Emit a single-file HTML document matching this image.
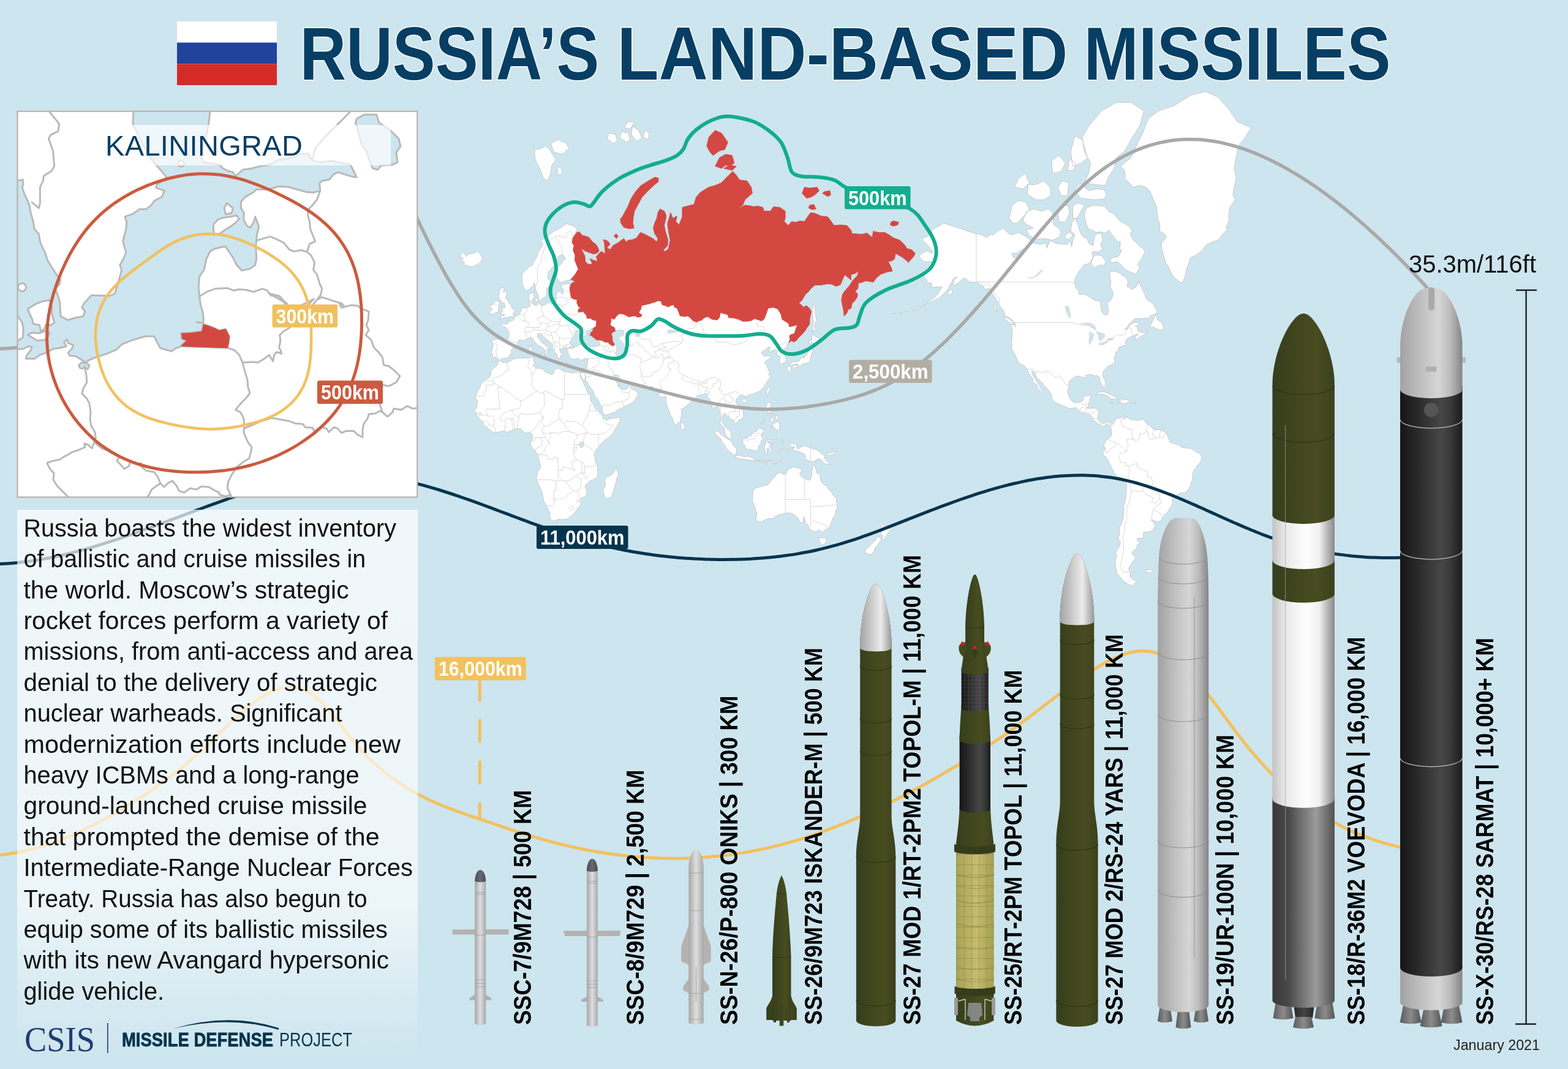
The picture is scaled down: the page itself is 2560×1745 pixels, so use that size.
<!DOCTYPE html>
<html lang="en"><head><meta charset="utf-8"><title>Russia’s Land-Based Missiles</title>
<style>html,body{margin:0;padding:0;background:#cde5ee;}body{width:2560px;height:1745px;overflow:hidden;position:relative;font-family:"Liberation Sans",sans-serif;}svg{display:block;position:absolute;left:0;top:0;}text{white-space:pre;}</style></head><body>
<svg width="2560" height="1745" viewBox="0 0 2560 1745">
<defs>
<linearGradient id="panelg" x1="0" y1="0" x2="0" y2="1">
<stop offset="0" stop-color="#fff" stop-opacity="0.7"/>
<stop offset="0.72" stop-color="#fff" stop-opacity="0.62"/>
<stop offset="0.88" stop-color="#fff" stop-opacity="0.22"/>
<stop offset="1" stop-color="#fff" stop-opacity="0"/>
</linearGradient>
<linearGradient id="gSil" x1="0" y1="0" x2="1" y2="0"><stop offset="0" stop-color="#9b9b9b"/><stop offset="0.3" stop-color="#bcbcbc"/><stop offset="0.68" stop-color="#d8d8d8"/><stop offset="0.74" stop-color="#c6c6c6"/><stop offset="1" stop-color="#7e7e7e"/></linearGradient>
<linearGradient id="gCr" x1="0" y1="0" x2="1" y2="0"><stop offset="0" stop-color="#a6a6a6"/><stop offset="0.5" stop-color="#dedede"/><stop offset="1" stop-color="#a9a9a9"/></linearGradient>
<linearGradient id="gOl" x1="0" y1="0" x2="1" y2="0"><stop offset="0" stop-color="#353d1c"/><stop offset="0.3" stop-color="#3d441d"/><stop offset="0.7" stop-color="#484c1f"/><stop offset="1" stop-color="#3a411d"/></linearGradient>
<linearGradient id="gOlD" x1="0" y1="0" x2="1" y2="0"><stop offset="0" stop-color="#2b3319"/><stop offset="0.5" stop-color="#363d1b"/><stop offset="1" stop-color="#2c3419"/></linearGradient>
<linearGradient id="gBlk" x1="0" y1="0" x2="1" y2="0"><stop offset="0" stop-color="#161616"/><stop offset="0.25" stop-color="#272727"/><stop offset="0.66" stop-color="#474747"/><stop offset="0.8" stop-color="#3a3a3a"/><stop offset="1" stop-color="#1b1b1b"/></linearGradient>
<linearGradient id="gWht" x1="0" y1="0" x2="1" y2="0"><stop offset="0" stop-color="#c2c2c2"/><stop offset="0.2" stop-color="#e9e9e9"/><stop offset="0.55" stop-color="#fdfdfd"/><stop offset="0.75" stop-color="#f1f1f1"/><stop offset="1" stop-color="#888"/></linearGradient>
<linearGradient id="gDg" x1="0" y1="0" x2="1" y2="0"><stop offset="0" stop-color="#393939"/><stop offset="0.25" stop-color="#484848"/><stop offset="0.7" stop-color="#9b9b9b"/><stop offset="1" stop-color="#525252"/></linearGradient>
<linearGradient id="gNose" x1="0" y1="0" x2="1" y2="0"><stop offset="0" stop-color="#a5a5a5"/><stop offset="0.35" stop-color="#cacaca"/><stop offset="0.66" stop-color="#ebebeb"/><stop offset="1" stop-color="#999"/></linearGradient>
<linearGradient id="gSN" x1="0" y1="0" x2="1" y2="0"><stop offset="0" stop-color="#a2a2a2"/><stop offset="0.3" stop-color="#bdbdbd"/><stop offset="0.62" stop-color="#d6d6d6"/><stop offset="0.8" stop-color="#bcbcbc"/><stop offset="1" stop-color="#858585"/></linearGradient>
<linearGradient id="gNoz" x1="0" y1="0" x2="1" y2="0"><stop offset="0" stop-color="#5a5a5a"/><stop offset="0.5" stop-color="#8c8c8c"/><stop offset="1" stop-color="#555"/></linearGradient>
<linearGradient id="gNozD" x1="0" y1="0" x2="1" y2="0"><stop offset="0" stop-color="#2a2a2a"/><stop offset="0.5" stop-color="#444"/><stop offset="1" stop-color="#262626"/></linearGradient>
<linearGradient id="gYel" x1="0" y1="0" x2="1" y2="0"><stop offset="0" stop-color="#a8a352"/><stop offset="0.55" stop-color="#c6bc6e"/><stop offset="1" stop-color="#a59f50"/></linearGradient>
<linearGradient id="gTip" x1="0" y1="0" x2="1" y2="0"><stop offset="0" stop-color="#4a4c58"/><stop offset="0.5" stop-color="#666874"/><stop offset="1" stop-color="#494b57"/></linearGradient>
<pattern id="pgrid" width="6.2" height="6.2" patternUnits="userSpaceOnUse"><path d="M0 0H6.2M0 0V6.2" stroke="#6b6b6b" stroke-width="0.5" fill="none"/></pattern>
<pattern id="ygrid" width="12.2" height="17" patternUnits="userSpaceOnUse"><path d="M0 0H12.2M0 0V17" stroke="#6f6a45" stroke-width="0.7" fill="none"/></pattern>
</defs>
<rect width="2560" height="1745" fill="#cde5ee"/>
<g id="world"><path d="M816.3 587.7L813.2 586.0L810.7 583.0L807.3 583.8L803.8 583.8L804.5 577.7L802.4 576.4L802.8 573.2L804.2 569.6L804.9 565.1L804.2 560.4L802.8 556.7L805.9 554.8L810.7 553.8L815.2 553.8L821.8 554.3L824.6 554.8L828.8 554.8L830.1 551.9L830.8 549.0L831.2 544.1L830.8 541.1L828.1 538.1L827.4 536.0L824.6 534.0L820.1 532.9L818.4 529.8L821.1 528.3L825.6 528.8L828.1 528.8L829.8 528.3L829.5 523.0L830.8 524.6L835.3 524.0L838.8 521.9L840.5 518.6L841.6 515.9L843.3 515.4L845.0 514.8L847.5 513.7L848.9 510.3L850.9 506.9L851.3 504.6L854.1 502.3L859.3 502.3L859.6 502.9L863.1 501.2L864.8 499.4L866.2 499.4L865.1 496.4L864.8 492.8L864.1 489.8L863.1 484.9L863.4 480.5L867.9 479.2L871.7 476.0L871.4 480.5L870.7 483.0L872.8 484.2L870.3 488.0L868.6 489.8L867.9 492.8L867.6 494.1L870.0 496.4L873.1 496.4L872.8 498.8L874.8 498.8L876.9 497.6L878.3 496.4L882.1 495.3L882.8 498.2L884.5 499.4L885.2 499.4L889.1 497.6L892.2 495.9L895.6 494.1L898.4 494.1L900.1 495.3L899.8 496.4L902.2 496.4L904.0 494.7L904.3 492.8L907.4 491.0L908.1 488.6L907.8 483.6L908.1 480.5L909.5 477.9L913.3 475.3L915.4 477.9L918.2 480.5L919.5 478.5L919.5 474.0L919.9 471.4L916.4 470.0L916.1 466.0L920.9 464.0L925.1 463.3L932.0 464.0L933.4 462.6L936.2 460.5L939.6 461.2L938.3 459.2L934.1 457.1L934.4 455.6L931.3 457.1L928.2 457.1L921.6 459.2L916.4 461.2L914.7 461.9L911.9 457.8L908.8 454.9L909.2 449.9L908.8 443.3L909.5 438.0L913.0 433.3L915.0 432.5L918.9 426.2L923.0 422.9L920.2 417.1L918.5 416.3L914.7 416.3L911.9 418.8L909.5 422.9L908.8 425.4L906.0 433.3L900.8 437.2L898.4 441.8L895.3 443.3L894.6 448.4L894.6 455.6L898.1 457.8L900.5 461.2L899.1 465.3L896.7 468.7L893.2 470.0L892.5 471.4L892.9 476.0L891.8 482.4L890.4 485.5L889.1 486.1L885.9 486.7L884.5 489.2L882.8 490.4L880.4 490.4L879.7 489.2L879.0 486.7L878.7 484.2L879.4 483.0L877.3 479.8L876.2 476.0L874.2 472.0L873.8 467.4L872.1 461.2L871.4 466.0L869.0 467.4L862.7 473.3L859.3 474.0L855.1 470.0L854.4 467.4L853.0 463.3L852.7 457.8L852.0 453.5L852.3 447.0L854.1 444.8L856.1 442.5L859.9 439.5L861.7 438.0L865.1 434.1L869.0 433.3L870.3 428.6L873.8 423.7L876.6 418.8L878.3 412.9L880.7 407.6L884.9 403.2L886.6 396.8L881.8 395.9L885.2 391.2L888.7 389.3L892.2 387.4L900.5 380.5L906.0 376.5L911.2 374.4L917.1 370.3L924.4 364.9L930.3 367.1L933.8 368.1L937.2 370.3L942.8 373.4L939.0 379.5L941.7 379.5L945.9 378.5L949.3 382.5L951.1 384.4L956.3 385.4L961.5 387.4L966.7 394.0L973.6 399.6L977.1 405.9L977.8 410.3L973.6 413.7L968.4 414.6L961.5 412.0L954.5 409.4L948.7 405.0L951.1 410.3L954.9 417.9L955.6 427.0L959.7 431.0L964.9 431.8L966.7 429.4L963.2 422.1L968.4 424.6L973.6 426.2L975.3 427.0L973.6 418.8L978.8 412.9L982.3 410.3L985.7 412.9L988.2 414.6L987.5 405.9L986.8 396.8L985.0 391.2L989.2 392.1L992.7 394.0L996.1 398.7L990.9 404.1L996.1 407.6L1001.3 400.5L1008.2 396.8L1018.6 389.3L1022.1 395.0L1025.6 392.1L1032.5 391.2L1039.4 388.3L1044.6 380.5L1046.4 379.5L1056.8 384.4L1063.7 388.3L1067.2 390.2L1072.4 395.0L1074.1 389.3L1068.9 381.5L1066.5 372.3L1068.9 363.9L1072.4 356.2L1074.1 347.0L1077.5 341.1L1084.5 344.6L1087.3 350.5L1087.3 356.2L1084.5 367.1L1086.2 377.5L1087.9 382.5L1090.7 392.1L1089.7 401.4L1082.7 408.5L1086.2 410.3L1091.4 405.9L1094.2 392.1L1091.4 377.5L1089.7 364.9L1093.1 353.9L1094.9 347.0L1098.3 356.2L1105.3 352.8L1103.5 361.7L1108.7 367.1L1113.9 353.9L1113.9 338.6L1122.6 336.2L1133.0 333.7L1136.5 322.1L1143.4 314.0L1157.2 305.6L1167.6 302.7L1178.0 298.3L1185.0 290.8L1196.4 279.7L1202.3 286.1L1207.5 293.8L1219.6 295.3L1226.5 305.6L1228.3 315.4L1216.2 326.1L1212.7 334.9L1202.3 342.3L1209.2 338.6L1216.2 334.9L1226.5 336.2L1230.0 337.4L1236.9 336.2L1245.6 338.6L1247.3 344.6L1257.7 344.6L1262.9 337.4L1273.3 338.6L1282.0 344.6L1282.0 356.2L1280.3 361.7L1287.2 368.1L1292.4 361.7L1299.3 362.8L1306.2 360.6L1313.2 361.7L1320.1 351.6L1323.6 347.0L1330.5 348.2L1340.9 352.8L1351.3 353.9L1356.5 360.6L1361.7 368.1L1372.1 367.1L1382.5 368.1L1389.4 375.4L1391.1 381.5L1396.3 381.5L1406.7 382.5L1415.4 380.5L1424.0 387.4L1425.8 377.5L1434.4 379.5L1444.8 379.5L1451.8 383.5L1458.7 388.3L1469.1 392.1L1476.0 398.7L1481.2 405.9L1488.2 407.6L1494.4 413.7L1491.6 418.8L1486.4 424.6L1483.0 428.6L1481.2 426.2L1472.6 419.6L1462.2 413.7L1460.4 422.9L1455.2 426.2L1450.0 426.2L1455.2 437.2L1457.0 442.5L1448.3 444.0L1437.9 447.7L1431.0 453.5L1425.8 460.5L1413.7 458.5L1406.7 461.2L1401.5 461.9L1400.8 470.7L1396.3 475.3L1400.5 480.5L1399.1 485.5L1395.6 491.0L1391.1 495.3L1389.4 503.5L1384.5 505.2L1383.2 510.3L1378.0 515.9L1377.3 507.5L1375.5 498.8L1373.8 489.8L1375.5 480.5L1379.0 475.3L1385.9 467.4L1392.9 457.1L1399.8 449.9L1401.5 442.5L1396.3 446.2L1389.4 448.4L1389.4 457.1L1379.0 448.4L1372.1 464.7L1365.1 467.4L1358.2 464.0L1351.3 463.3L1340.9 465.3L1330.5 465.3L1323.6 471.4L1320.1 476.0L1314.9 480.5L1309.7 489.8L1304.5 494.7L1309.7 498.8L1311.4 501.7L1316.6 498.8L1321.8 503.5L1324.6 508.6L1323.6 513.1L1321.8 521.3L1321.8 529.3L1316.6 536.0L1314.9 539.6L1309.7 545.5L1304.5 550.4L1299.3 556.7L1295.8 558.1L1292.0 556.2L1287.9 560.0L1286.1 561.4L1284.8 562.3L1284.4 566.0L1280.3 569.6L1276.8 571.4L1276.4 574.1L1279.9 577.3L1283.0 583.8L1283.7 588.1L1282.3 592.0L1278.5 592.8L1273.3 594.9L1272.6 590.3L1273.3 586.0L1273.7 581.6L1269.9 580.8L1268.1 577.3L1269.2 573.7L1266.0 571.0L1259.5 572.8L1256.3 575.5L1255.3 572.8L1257.7 567.8L1254.3 566.4L1249.1 571.0L1242.8 575.0L1245.6 579.5L1247.3 581.6L1252.5 580.8L1259.5 582.1L1257.7 584.3L1251.8 588.1L1248.4 592.4L1251.8 596.6L1254.3 602.8L1257.0 608.1L1254.3 610.9L1257.7 612.9L1256.7 616.9L1256.0 619.7L1253.6 620.9L1250.1 626.7L1249.1 628.6L1245.6 633.6L1243.9 634.8L1240.4 638.2L1239.4 638.9L1233.5 641.2L1230.7 642.7L1228.3 643.1L1223.1 644.6L1217.9 646.8L1217.2 650.1L1215.5 645.7L1211.0 644.9L1207.5 646.1L1205.1 648.3L1202.3 652.0L1201.3 655.7L1204.0 659.7L1207.5 663.7L1210.3 665.8L1212.7 669.4L1213.7 674.8L1214.1 680.1L1212.7 682.6L1209.2 684.7L1205.8 685.8L1204.7 688.9L1200.6 691.4L1198.1 692.1L1198.8 687.2L1195.4 685.4L1191.9 682.9L1190.2 680.1L1185.0 677.6L1184.6 674.8L1183.2 674.8L1181.5 675.5L1181.2 680.1L1179.8 685.4L1179.1 689.6L1181.5 692.4L1183.2 696.6L1186.7 698.4L1189.5 700.5L1192.6 704.7L1193.6 708.1L1193.3 712.6L1196.1 717.1L1194.7 717.5L1193.3 716.8L1188.4 714.0L1186.0 711.6L1183.9 708.1L1182.9 702.9L1182.2 699.4L1179.8 695.9L1176.3 693.5L1175.6 688.9L1177.0 684.4L1177.0 680.1L1175.6 674.8L1173.9 669.4L1173.2 664.0L1170.4 662.9L1165.9 665.8L1161.7 665.8L1162.4 660.4L1161.4 655.7L1159.0 652.0L1156.6 649.4L1154.8 647.5L1153.1 642.7L1150.3 641.6L1148.6 643.8L1145.1 644.6L1141.7 644.9L1138.2 645.7L1136.5 648.3L1134.7 651.2L1131.3 652.4L1127.8 655.7L1124.3 659.3L1120.2 663.3L1116.4 665.8L1113.2 667.6L1112.5 673.0L1113.2 676.2L1111.9 680.1L1111.5 686.1L1108.7 689.6L1106.0 691.0L1103.5 693.8L1100.1 690.7L1099.0 687.2L1097.6 681.9L1094.2 676.6L1092.8 671.2L1090.7 667.6L1089.0 662.2L1087.6 656.8L1087.3 654.9L1087.3 649.4L1086.2 645.7L1084.5 647.5L1081.0 648.3L1077.5 647.5L1074.1 642.7L1078.6 640.5L1073.4 639.3L1070.6 637.4L1068.2 635.2L1067.2 633.3L1065.4 631.0L1058.5 631.7L1049.8 632.1L1042.9 631.0L1037.7 630.2L1033.5 630.2L1032.5 625.6L1030.1 624.4L1024.9 626.3L1020.4 625.6L1016.9 622.8L1013.4 621.3L1011.0 616.9L1009.3 612.9L1004.8 611.3L1003.1 612.9L1001.3 615.3L1003.1 618.9L1005.5 622.8L1008.2 625.9L1008.9 629.8L1011.0 633.3L1012.4 628.6L1013.8 632.5L1013.4 635.2L1016.9 635.5L1022.1 635.9L1023.8 634.4L1026.6 631.3L1029.0 628.6L1030.4 627.1L1030.1 632.5L1031.1 634.4L1038.0 637.8L1042.2 642.0L1038.7 649.4L1035.3 654.9L1030.8 658.6L1026.3 660.4L1022.1 662.2L1015.9 665.8L1008.2 669.4L1003.7 673.0L996.1 675.1L990.9 677.3L985.7 677.6L984.7 675.5L983.3 670.1L983.0 664.4L978.8 658.6L976.4 652.0L970.8 645.7L968.4 638.2L964.2 632.5L961.5 628.6L958.0 622.8L955.6 620.9L956.3 614.9L954.2 620.9L953.5 621.7L951.1 618.9L948.0 612.9L946.9 607.7L952.1 608.5L953.8 607.3L955.6 604.5L956.3 601.6L958.0 597.0L959.0 590.3L960.4 585.6L958.0 585.6L954.9 584.7L951.1 587.7L948.7 588.1L941.4 584.3L940.7 586.8L936.2 586.8L932.7 584.7L929.9 583.8L929.2 579.9L927.9 577.7L926.8 574.1L925.8 572.8L925.8 570.5L928.6 568.7L932.0 568.7L935.5 568.3L938.6 567.4L935.8 566.0L936.2 565.1L942.4 565.5L945.9 562.8L950.4 561.4L956.6 561.4L959.7 562.8L960.8 564.6L963.2 565.5L968.4 566.0L972.6 566.0L978.1 564.1L979.1 563.2L979.5 560.4L977.1 556.7L973.6 554.8L972.6 553.8L968.4 550.4L966.0 548.5L962.5 546.5L964.2 545.5L964.9 542.1L967.4 541.1L968.4 537.6L969.8 536.0L971.5 536.5L967.4 536.5L964.9 536.5L962.5 538.6L958.0 540.1L956.3 541.1L955.6 542.1L957.0 545.1L961.5 545.1L960.8 547.0L957.7 547.0L954.5 548.5L951.1 549.5L951.1 547.0L947.6 545.1L950.0 542.6L951.8 541.6L947.6 541.6L945.2 539.6L941.4 539.6L939.6 543.1L937.9 546.0L934.4 550.9L934.1 554.3L931.7 555.7L930.3 559.0L932.0 561.4L932.7 563.7L935.5 565.5L933.8 566.0L930.3 566.0L927.5 568.3L925.8 570.1L925.1 567.8L924.7 566.9L919.9 566.4L918.2 568.7L919.2 570.1L917.5 571.0L914.7 569.2L914.3 567.8L913.3 569.2L914.3 572.8L914.7 573.7L915.7 575.9L918.2 577.3L918.2 580.8L917.1 579.9L914.7 579.9L915.4 582.1L914.7 586.0L913.0 586.0L912.3 584.3L911.6 583.8L910.2 584.7L908.8 580.8L910.2 578.6L908.1 578.1L906.7 575.5L905.0 572.3L902.6 569.2L902.2 568.3L902.2 564.6L901.9 561.8L899.1 559.5L897.7 558.5L891.8 554.3L887.7 550.9L885.2 546.0L883.2 548.0L882.1 546.5L882.8 544.1L877.6 545.1L878.3 547.5L877.6 550.9L881.8 553.8L883.5 558.1L887.0 561.4L891.1 561.8L890.4 564.1L893.6 565.5L897.4 567.8L899.1 570.1L898.4 571.4L897.0 569.2L894.6 568.3L892.5 571.0L894.6 575.0L892.5 577.3L890.8 579.9L889.1 579.5L889.7 577.3L890.8 575.0L889.1 570.5L887.0 569.6L886.3 567.8L884.2 566.9L882.1 565.1L878.7 564.1L877.3 562.3L875.2 560.0L873.1 559.0L871.4 556.7L870.7 554.3L869.0 551.4L865.8 549.9L863.4 551.9L861.0 552.8L860.3 553.3L855.4 556.2L853.7 555.2L850.6 554.8L847.1 555.2L845.4 557.6L846.1 559.5L846.1 561.8L842.6 564.1L839.2 565.5L837.8 567.4L835.0 571.0L834.0 572.8L835.7 575.9L833.3 578.1L832.2 581.2L828.4 584.3L826.7 584.7L822.9 585.1L819.8 585.1ZM1327.0 497.0L1330.5 501.7L1331.5 510.3L1332.2 518.6L1334.0 525.1L1330.5 526.7L1329.8 534.5L1332.2 538.1L1331.5 541.1L1328.8 538.6L1327.0 542.1L1326.7 534.5L1327.7 526.7L1327.0 518.6L1326.3 510.3L1326.3 501.7ZM814.6 589.0L816.6 588.6L820.1 591.5L824.6 591.1L828.1 592.0L832.9 589.4L838.5 586.0L845.4 584.7L852.7 584.7L862.0 584.3L869.3 582.5L873.1 583.4L870.7 584.7L871.7 589.0L872.4 593.7L870.0 597.0L873.1 598.7L876.6 601.2L880.7 601.2L887.3 603.2L889.4 606.9L895.6 609.3L900.8 611.7L904.3 608.9L904.6 604.5L909.5 601.2L913.3 601.6L918.2 604.9L922.3 606.5L929.2 607.3L934.8 609.3L938.6 608.1L942.4 606.9L946.9 607.7L947.6 612.9L948.3 617.3L951.4 621.7L952.5 625.6L955.9 632.5L958.0 636.3L958.7 640.1L962.9 643.8L963.9 647.5L963.9 652.7L964.9 656.0L968.4 658.6L970.8 664.0L971.9 667.3L974.3 669.4L977.1 670.9L981.9 675.9L984.7 678.3L984.3 681.5L985.7 682.2L988.5 685.4L990.9 685.8L997.9 682.9L1004.8 682.6L1012.8 680.8L1012.4 685.8L1011.0 688.9L1008.2 694.2L1004.8 699.4L1001.3 706.4L996.1 712.3L992.0 715.1L987.5 718.5L982.3 723.4L978.8 727.9L976.7 730.0L973.9 733.1L972.6 735.9L970.8 739.3L969.8 743.5L971.9 746.0L971.5 749.8L972.9 756.8L975.3 758.9L975.3 765.7L976.4 772.8L975.7 776.4L973.6 779.3L969.8 782.5L963.2 785.1L959.7 788.7L955.9 792.0L955.2 795.0L957.3 798.3L958.0 802.0L957.7 806.9L954.5 810.7L949.3 812.7L948.0 815.4L949.0 819.2L947.3 825.1L943.5 829.1L939.6 835.1L935.5 840.0L931.7 843.2L926.8 846.6L923.7 847.4L918.2 847.8L911.2 847.8L904.3 850.8L900.1 849.1L898.8 847.0L897.4 842.4L898.4 838.3L894.9 831.1L892.2 825.5L887.7 817.7L886.6 811.5L885.2 803.5L881.8 796.5L878.3 788.3L875.9 782.9L875.9 778.2L877.3 775.3L878.3 769.2L881.4 766.0L882.8 760.4L880.7 752.6L879.4 748.1L877.6 743.2L877.3 741.1L875.9 738.7L873.1 735.2L869.0 730.7L866.5 726.5L865.5 724.4L867.6 720.6L868.3 718.5L869.0 715.4L869.0 711.6L868.6 708.1L865.8 706.4L863.8 706.0L859.3 706.7L855.8 707.1L853.4 703.6L850.6 700.1L846.8 699.8L843.3 700.1L839.2 700.8L834.3 702.9L827.7 705.7L824.6 704.3L821.1 703.6L814.2 705.3L808.3 706.7L803.8 704.7L797.6 700.1L795.2 698.0L791.7 695.9L789.3 692.4L788.9 688.9L784.4 685.1L783.0 683.6L780.9 680.5L777.1 679.0L777.5 675.1L774.4 670.5L777.8 665.8L779.6 658.2L778.9 653.1L775.7 648.3L778.5 642.0L779.9 637.4L783.4 633.6L784.8 628.3L789.3 622.0L790.3 621.3L796.5 617.7L799.7 615.3L801.7 611.3L801.0 606.9L803.1 603.6L808.7 598.3L811.4 596.6L813.5 592.4ZM1005.8 763.9L1008.2 769.2L1010.0 776.4L1007.6 778.2L1006.2 785.4L1003.1 796.5L999.6 807.7L997.9 811.5L991.6 813.8L987.5 811.5L985.0 803.2L985.0 798.3L988.5 792.8L987.5 783.6L989.2 778.9L995.4 777.1L1001.0 773.1L1004.1 767.4ZM815.2 520.8L821.1 519.7L822.9 518.1L828.1 518.1L831.5 517.5L836.0 517.0L839.9 515.4L839.9 513.7L837.4 513.1L840.9 506.9L840.9 505.2L836.7 504.6L835.3 501.7L834.7 498.8L830.8 495.3L829.8 492.8L828.1 488.0L824.6 486.7L826.3 483.6L828.1 477.3L822.9 476.0L821.1 476.6L824.6 470.0L817.7 470.0L814.9 475.3L815.2 480.5L813.5 483.0L815.9 486.7L815.6 491.0L818.4 489.8L818.0 494.7L822.9 493.5L824.3 498.8L824.6 502.3L819.4 502.9L820.1 505.8L820.8 508.6L817.0 510.9L819.4 512.6L824.6 513.7L822.9 514.8L819.4 515.9ZM814.2 509.2L813.5 502.9L814.2 498.8L815.9 495.9L814.2 491.6L809.0 491.0L805.5 494.1L805.5 497.0L800.4 497.6L801.0 502.3L803.8 504.1L802.1 506.9L799.3 509.8L801.0 513.1L805.5 512.6L810.7 509.8ZM750.8 418.8L755.3 412.0L757.7 411.1L760.5 418.8L765.0 414.6L772.6 413.7L779.6 410.3L783.7 414.6L787.9 421.3L784.8 427.8L779.6 431.8L770.9 435.7L764.0 434.1L757.0 431.8L758.8 427.8L751.8 423.7L757.0 421.3ZM878.3 579.5L881.8 578.6L888.7 578.6L887.7 583.8L885.2 585.1L880.0 582.5ZM863.4 566.4L867.9 565.1L868.6 572.8L866.2 574.6L864.1 574.1ZM864.8 559.0L867.6 556.7L867.9 562.8L866.9 564.1L865.1 562.8ZM916.8 590.3L919.9 589.8L926.1 591.5L921.6 592.8L916.8 591.5ZM946.9 592.4L949.3 591.1L954.5 589.8L952.8 592.8L949.3 594.1ZM898.1 479.8L900.1 474.7L901.5 475.3L900.1 478.5L898.8 481.1ZM873.8 488.6L877.6 486.1L878.7 489.2L876.9 492.8L874.2 491.6ZM869.0 489.8L872.1 489.8L872.1 492.2L869.6 492.2ZM1112.2 687.9L1116.4 692.4L1118.4 696.6L1117.4 700.1L1113.9 701.5L1111.9 699.4L1111.2 694.2ZM1217.9 651.2L1219.6 653.1L1216.2 657.5L1212.0 656.4L1211.6 653.1L1214.4 651.2ZM1256.0 631.7L1257.7 633.3L1256.0 638.2L1253.6 643.8L1251.5 640.8L1251.8 637.1L1254.3 632.5ZM1323.2 563.7L1325.3 568.3L1327.0 572.8L1325.3 578.1L1323.6 581.6L1322.9 588.1L1322.9 589.4L1319.4 592.4L1316.6 592.4L1314.9 593.7L1309.7 594.1L1309.0 595.3L1306.2 598.7L1303.5 597.8L1303.1 594.5L1299.3 594.1L1294.1 595.8L1288.9 596.6L1288.6 595.3L1290.6 594.1L1294.1 590.7L1299.3 590.3L1304.5 589.8L1306.2 586.8L1309.0 583.8L1310.4 581.6L1311.4 584.7L1314.9 582.5L1318.4 577.3L1320.1 572.8L1320.1 568.3L1321.1 565.1ZM1320.1 561.4L1321.8 555.2L1325.3 555.2L1326.0 545.1L1328.8 547.0L1332.2 550.4L1337.4 551.9L1339.2 555.2L1335.7 556.7L1331.5 561.4L1326.3 559.0L1323.6 559.0L1322.5 562.8ZM1285.5 598.7L1288.9 597.4L1291.7 599.9L1290.6 604.9L1288.9 607.7L1287.2 608.1L1286.1 603.6L1284.8 601.6ZM1294.1 597.0L1299.3 595.3L1301.7 597.4L1299.3 599.1L1295.8 601.6L1294.1 599.5ZM1165.2 702.6L1172.8 704.0L1177.0 708.8L1181.5 712.3L1185.0 714.4L1191.9 719.2L1194.7 722.0L1197.1 727.2L1202.3 732.4L1201.6 742.1L1197.4 742.1L1193.6 738.7L1189.1 735.2L1185.0 730.7L1182.5 725.5L1178.7 721.3L1177.0 716.1L1172.8 713.3L1168.7 708.8ZM1199.5 745.6L1204.0 742.8L1211.0 744.6L1217.9 746.0L1219.6 744.6L1225.5 746.0L1231.7 748.8L1231.7 752.3L1224.8 751.2L1216.2 749.8L1209.2 749.1L1203.7 747.7ZM1212.7 716.8L1214.8 715.1L1219.6 716.1L1221.3 712.6L1226.5 710.9L1230.0 706.4L1235.2 704.0L1239.7 698.0L1242.8 699.8L1248.0 703.6L1244.6 707.1L1242.5 709.9L1243.9 714.4L1247.3 718.5L1243.2 719.2L1242.1 724.8L1238.7 727.2L1238.0 732.4L1236.9 735.9L1231.7 736.2L1226.5 733.4L1222.4 734.1L1217.2 732.1L1216.2 727.2L1213.4 723.7L1212.7 720.3ZM1249.1 741.1L1252.2 741.1L1252.2 732.4L1254.3 731.4L1257.7 738.7L1261.2 741.1L1259.5 734.1L1256.0 728.6L1262.2 725.1L1256.0 725.1L1252.5 720.3L1259.5 720.3L1266.4 720.3L1268.8 716.8L1264.7 718.5L1254.3 717.8L1250.8 719.2L1250.1 724.4L1248.4 728.9L1246.6 732.4L1249.1 734.1ZM1288.9 724.8L1294.1 723.4L1299.3 724.8L1302.8 733.4L1308.0 729.6L1313.2 727.5L1323.6 731.0L1330.5 733.8L1335.7 735.2L1340.2 740.0L1344.4 742.5L1347.1 744.6L1345.0 746.3L1349.6 752.6L1354.8 757.5L1356.5 758.9L1347.8 757.2L1344.4 755.1L1340.9 750.5L1335.7 748.8L1330.5 751.6L1331.5 753.3L1323.6 753.7L1316.6 750.2L1313.2 751.2L1315.9 746.3L1313.2 741.1L1306.2 738.0L1299.3 735.5L1295.8 736.2L1295.2 733.4L1292.4 732.1L1298.6 730.3L1293.1 729.6L1288.9 727.2ZM1252.5 656.8L1258.4 656.8L1258.8 662.2L1256.0 665.8L1257.7 672.3L1264.7 676.6L1264.0 678.0L1259.5 674.8L1255.0 674.4L1252.9 671.9L1251.5 670.1L1250.1 664.7L1252.2 660.4ZM1257.7 697.7L1262.9 692.1L1269.9 687.9L1273.3 694.2L1272.3 700.1L1269.9 702.6L1264.7 699.4L1262.9 695.9ZM1229.0 802.0L1230.4 799.4L1235.2 795.7L1240.4 795.0L1247.3 792.8L1254.3 790.9L1258.4 785.4L1261.2 781.1L1264.7 778.9L1268.1 773.9L1273.3 771.0L1278.5 773.9L1283.7 774.2L1284.4 770.3L1287.2 765.7L1292.4 764.2L1294.1 761.4L1302.8 764.6L1309.0 764.6L1308.0 769.2L1305.5 773.9L1308.0 777.5L1313.2 780.7L1318.4 783.6L1322.9 783.6L1325.3 776.4L1325.6 769.2L1327.0 760.4L1328.8 759.3L1332.2 765.7L1333.3 772.1L1338.5 774.6L1339.2 780.0L1340.9 786.5L1343.7 789.8L1349.6 793.5L1353.0 799.4L1357.5 803.2L1359.9 807.7L1365.1 813.4L1365.8 819.2L1367.2 825.9L1365.1 833.1L1363.4 840.0L1359.3 847.0L1357.2 852.5L1354.8 859.3L1354.4 862.4L1347.8 864.1L1342.6 869.0L1337.4 864.5L1335.7 865.9L1332.2 868.1L1325.3 865.9L1321.1 863.7L1319.1 856.7L1314.9 854.2L1314.9 850.8L1312.5 843.2L1311.4 851.6L1308.0 853.7L1305.2 850.8L1302.8 846.2L1299.3 842.4L1295.8 839.5L1288.9 837.1L1282.0 837.9L1271.6 840.4L1264.7 843.2L1262.9 847.0L1256.0 846.6L1250.8 847.4L1243.9 851.6L1238.7 851.6L1233.8 848.7L1235.2 843.2L1235.9 839.1L1233.5 833.1L1232.1 826.3L1228.3 817.3L1229.0 809.6ZM1336.4 876.6L1342.6 878.5L1348.9 877.6L1348.9 883.6L1346.1 888.3L1340.9 890.2L1338.5 885.0ZM1433.4 849.1L1437.9 853.7L1443.1 858.0L1444.8 862.8L1451.8 862.8L1453.5 864.5L1450.0 869.9L1448.3 872.6L1446.6 875.7L1442.4 880.8L1440.7 879.4L1441.4 874.8L1437.9 870.3L1440.3 866.7L1440.7 862.4L1438.9 858.0L1434.4 852.5ZM1433.4 875.7L1438.9 878.9L1437.9 882.6L1434.4 887.3L1432.7 891.2L1428.6 893.6L1426.8 900.9L1422.3 904.9L1418.2 904.9L1411.9 901.9L1413.7 897.0L1418.9 892.1L1424.0 887.3L1428.6 882.6L1431.0 878.0ZM873.1 244.2L883.5 242.3L890.4 238.3L897.4 244.2L907.8 261.0L900.8 269.7L899.1 282.9L893.9 295.3L887.0 290.8L883.5 279.7L876.6 266.2L873.1 257.4ZM899.1 234.3L911.2 228.1L925.1 234.3L928.6 242.3L918.2 251.8L904.3 248.1ZM909.5 271.4L916.4 274.8L918.2 282.9L911.2 286.1ZM990.9 226.0L1001.3 234.3L1008.2 230.2L1004.8 219.5L994.4 217.3ZM1011.7 223.9L1022.1 232.3L1029.0 228.1L1025.6 217.3L1015.2 215.1ZM1030.8 219.5L1039.4 230.2L1048.1 226.0L1042.9 212.8L1032.5 205.9ZM1049.8 223.9L1058.5 228.1L1060.2 217.3L1053.3 212.8ZM1018.6 208.3L1029.0 210.6L1036.0 198.8L1025.6 198.8ZM1231.7 750.5L1235.9 750.5L1235.2 752.6L1232.4 752.3ZM1236.9 750.9L1239.4 750.9L1238.7 753.0L1236.9 752.6ZM1239.7 751.6L1247.3 750.9L1247.3 752.6L1240.4 753.3ZM1250.1 751.6L1261.2 750.9L1260.5 752.6L1250.8 753.0ZM1247.3 754.7L1253.6 755.4L1252.5 757.9L1248.0 756.1ZM1262.9 757.9L1268.1 753.3L1276.1 751.2L1275.1 753.0L1268.1 755.4L1264.7 757.5ZM1276.8 715.8L1278.5 720.3L1280.3 723.7L1278.5 724.8L1277.1 720.3ZM1271.6 733.1L1275.1 732.7L1275.7 734.8L1272.3 735.2ZM1278.5 732.1L1288.2 732.4L1287.2 734.5L1280.3 734.1ZM1348.9 741.1L1354.8 740.0L1361.7 736.6L1362.7 739.0L1358.2 742.8L1351.3 743.5ZM1357.5 731.0L1363.4 734.1L1365.1 737.6L1362.7 735.9L1358.2 732.4ZM1265.7 678.3L1269.9 678.3L1269.9 683.6L1268.1 686.5L1266.4 683.6ZM1257.7 680.8L1261.9 681.9L1262.9 685.4L1261.2 690.0L1259.5 687.9L1257.7 685.4ZM1241.4 692.4L1245.6 688.9L1249.1 682.6L1247.3 687.2L1243.2 692.4ZM1252.5 675.1L1256.0 675.9L1255.3 679.0L1253.6 678.0ZM1540.1 363.9L1555.7 369.2L1569.6 373.4L1580.0 377.5L1593.8 381.5L1600.8 382.5L1611.2 387.4L1618.1 382.5L1621.6 383.5L1628.5 377.5L1638.9 372.3L1642.3 377.5L1649.3 382.5L1652.7 383.5L1663.1 379.5L1677.0 387.4L1683.9 394.0L1687.4 396.8L1697.8 398.7L1708.2 396.8L1708.2 405.9L1715.1 392.1L1722.0 396.8L1732.4 398.7L1742.8 398.7L1746.3 392.1L1749.8 403.2L1751.5 392.1L1755.0 382.5L1748.0 377.5L1749.8 363.9L1755.0 356.2L1760.2 367.1L1763.6 379.5L1768.8 387.4L1774.0 387.4L1777.5 396.8L1784.4 401.4L1786.1 392.1L1787.9 382.5L1798.3 380.5L1800.0 392.1L1796.5 401.4L1800.7 405.9L1793.1 412.0L1786.1 410.3L1782.7 412.0L1784.4 418.8L1780.9 427.0L1775.7 431.0L1770.5 431.8L1767.1 436.4L1761.9 442.5L1756.7 451.4L1754.3 460.5L1756.0 468.7L1760.8 475.3L1761.9 480.5L1770.5 480.5L1777.5 483.6L1786.1 489.8L1796.5 491.6L1797.6 501.7L1798.3 507.5L1801.7 513.1L1805.2 514.8L1808.7 513.1L1809.4 507.5L1808.7 498.8L1806.9 494.7L1813.9 489.8L1816.6 483.6L1817.3 477.3L1813.9 470.7L1812.1 467.4L1813.9 460.5L1812.1 453.5L1812.1 444.0L1815.6 442.5L1824.3 444.0L1829.5 446.2L1832.9 449.9L1839.8 453.5L1841.6 460.5L1839.8 467.4L1843.3 468.7L1846.8 472.0L1853.7 469.4L1857.2 464.0L1858.9 458.5L1862.4 467.4L1865.8 474.0L1869.3 480.5L1871.0 486.7L1874.5 491.0L1881.4 494.1L1884.9 500.6L1888.4 505.8L1889.1 510.3L1884.9 513.1L1879.7 514.8L1874.5 519.7L1867.6 519.7L1860.6 519.7L1852.0 520.3L1848.5 525.1L1843.3 529.3L1839.8 534.5L1835.7 538.1L1839.8 537.0L1845.0 530.4L1852.0 526.2L1858.9 526.2L1859.6 527.7L1857.2 531.9L1853.7 531.9L1857.2 534.5L1857.9 540.6L1861.3 542.1L1867.6 543.1L1871.0 544.1L1874.5 542.1L1872.8 537.0L1871.0 545.5L1862.4 549.0L1855.4 554.3L1853.0 552.8L1854.4 549.0L1858.9 545.5L1853.7 546.0L1850.2 548.0L1845.0 550.4L1839.8 553.3L1837.4 558.1L1836.4 560.0L1839.8 562.3L1837.8 563.7L1835.0 563.7L1831.2 565.1L1826.0 567.4L1826.0 570.5L1825.0 572.8L1822.5 575.5L1820.8 573.7L1822.2 577.3L1820.8 580.3L1819.1 583.8L1819.4 586.0L1820.8 591.1L1817.3 593.7L1812.8 596.6L1809.4 597.4L1806.9 600.8L1805.5 602.0L1801.7 604.9L1800.3 610.1L1800.3 611.7L1802.4 618.9L1803.5 619.3L1805.2 625.6L1804.9 629.4L1803.5 631.7L1801.0 631.7L1799.0 628.6L1797.6 625.6L1795.8 621.7L1795.8 617.7L1793.1 613.7L1790.6 612.9L1786.8 614.1L1783.7 611.3L1780.3 611.7L1777.5 611.7L1774.0 611.7L1772.3 612.9L1773.3 616.1L1769.9 616.5L1767.1 616.1L1763.6 614.5L1758.4 613.7L1753.9 615.7L1749.8 618.9L1745.3 622.0L1745.6 628.6L1743.9 634.4L1743.5 642.7L1745.3 647.5L1749.4 654.2L1753.2 656.4L1755.7 657.8L1760.2 657.1L1764.3 656.4L1768.1 653.8L1768.8 652.0L1769.2 647.5L1772.3 646.4L1777.5 645.3L1780.9 645.7L1781.6 646.8L1779.2 651.2L1779.2 654.9L1777.5 657.5L1776.8 660.4L1775.7 664.7L1774.4 666.2L1779.2 666.5L1784.4 666.2L1787.9 666.2L1791.3 667.3L1794.1 669.4L1793.1 674.8L1792.7 680.1L1792.0 683.6L1793.8 686.1L1794.8 687.2L1797.6 690.0L1800.0 691.0L1803.5 690.7L1805.5 689.3L1808.7 688.9L1812.1 689.6L1814.2 691.7L1812.5 697.0L1810.7 694.2L1806.9 691.0L1804.5 693.1L1803.5 696.6L1800.0 695.2L1796.5 693.1L1794.8 693.1L1792.4 692.1L1788.6 687.9L1785.4 687.2L1785.1 683.6L1782.0 679.4L1779.2 676.6L1775.7 675.9L1770.5 673.7L1765.4 673.0L1762.6 670.9L1758.4 666.5L1755.0 665.1L1749.8 666.9L1744.6 666.2L1739.4 663.7L1736.2 662.9L1730.7 660.4L1723.8 657.5L1718.6 653.1L1716.8 649.4L1717.5 645.7L1713.7 639.3L1708.2 632.5L1703.3 629.8L1703.0 625.9L1699.5 623.6L1698.1 621.3L1694.3 617.7L1690.9 612.9L1690.2 608.1L1684.6 605.7L1685.0 608.9L1687.4 614.9L1691.5 620.9L1694.3 624.8L1696.7 628.6L1698.8 633.3L1700.2 635.5L1703.0 639.3L1701.2 640.5L1699.5 638.2L1694.3 633.6L1693.6 628.6L1689.1 625.6L1685.7 622.8L1686.7 618.9L1682.2 613.7L1679.4 608.9L1678.0 605.3L1676.6 602.8L1672.1 596.6L1668.3 594.9L1664.9 594.5L1661.4 588.1L1660.0 585.6L1657.9 580.3L1654.5 575.0L1651.4 568.7L1652.0 561.4L1651.4 556.7L1652.7 549.0L1652.7 541.1L1652.4 537.0L1650.3 529.8L1656.2 530.4L1658.3 534.0L1656.9 526.7L1655.5 525.1L1651.0 521.3L1645.8 517.5L1640.6 515.9L1639.6 510.3L1637.1 504.6L1631.9 498.8L1630.9 497.0L1630.2 492.8L1626.8 489.8L1623.3 483.6L1618.1 477.3L1616.7 472.0L1612.9 470.7L1609.4 472.7L1604.2 467.4L1598.0 463.3L1592.1 460.5L1583.4 460.5L1576.5 454.9L1574.8 453.5L1569.6 457.1L1564.4 461.9L1557.5 466.0L1556.4 464.0L1557.5 457.1L1562.7 452.1L1557.5 453.5L1554.0 460.5L1550.5 465.3L1548.8 470.7L1543.6 476.6L1538.4 481.7L1533.2 486.7L1526.3 489.8L1519.3 492.8L1512.4 495.3L1517.6 491.0L1522.8 488.0L1528.0 483.6L1533.2 477.3L1536.7 470.0L1538.4 468.7L1533.2 468.7L1528.0 468.7L1521.1 469.4L1521.1 461.9L1515.9 461.9L1512.4 457.1L1508.9 451.4L1507.2 446.2L1510.7 440.3L1512.4 437.2L1517.6 437.2L1522.8 434.9L1524.5 427.0L1519.3 427.0L1512.4 427.0L1509.3 427.0L1505.5 424.6L1500.3 417.9L1507.2 412.0L1514.1 409.4L1521.1 413.7L1522.8 410.3L1519.3 405.9L1514.1 399.6L1507.2 393.1L1504.4 394.0L1507.2 388.3L1515.9 385.4L1519.3 377.5L1528.0 371.3L1534.9 368.1ZM1814.2 691.7L1816.3 693.5L1819.1 688.9L1820.8 685.8L1823.2 683.6L1826.0 682.6L1829.5 681.9L1832.9 679.4L1835.3 678.7L1834.7 681.9L1834.3 684.4L1835.3 684.4L1839.2 681.5L1839.8 679.4L1841.6 681.9L1845.0 684.4L1846.8 685.4L1850.2 685.1L1853.7 686.1L1857.2 686.8L1860.6 685.4L1864.1 684.7L1867.6 684.7L1868.3 687.2L1871.0 688.9L1872.8 692.4L1876.2 693.5L1880.7 698.4L1884.2 701.2L1891.1 701.5L1895.3 701.9L1901.2 705.0L1904.0 706.7L1905.7 709.9L1907.4 715.1L1909.1 718.5L1909.5 721.3L1914.3 723.0L1916.1 724.4L1917.8 724.4L1923.0 725.8L1928.2 728.2L1929.2 730.7L1933.4 730.3L1938.6 732.1L1943.8 731.7L1949.0 734.8L1953.2 738.3L1957.7 739.7L1960.4 742.1L1961.8 746.7L1961.5 750.2L1959.4 755.1L1955.9 758.6L1954.2 760.4L1952.5 763.9L1949.0 767.4L1947.3 772.8L1947.3 778.2L1946.6 783.6L1944.8 787.2L1944.5 791.3L1942.8 793.9L1940.7 798.3L1937.6 802.0L1936.9 803.9L1932.7 803.9L1928.2 804.7L1922.0 807.7L1917.8 810.7L1914.3 814.6L1914.0 819.2L1914.3 821.6L1913.3 825.5L1910.2 828.3L1908.1 833.1L1905.0 837.1L1901.9 840.0L1897.4 846.2L1896.0 849.1L1892.2 851.6L1887.7 851.2L1883.2 849.5L1880.0 847.8L1880.0 849.9L1883.9 852.9L1884.2 856.7L1885.9 858.0L1883.2 864.5L1878.0 867.6L1871.0 869.0L1866.9 868.1L1866.9 873.5L1866.5 877.6L1861.3 878.9L1857.2 878.0L1856.8 882.6L1862.0 885.0L1859.6 887.3L1856.1 890.2L1856.1 896.0L1852.0 898.0L1848.5 900.9L1848.5 904.4L1852.0 907.0L1854.4 911.1L1850.2 915.2L1847.8 920.0L1845.0 923.7L1842.6 928.1L1845.4 935.4L1845.0 937.1L1846.8 942.3L1850.2 946.4L1856.5 949.3L1852.0 952.4L1849.2 956.6L1843.3 954.2L1836.4 949.9L1831.2 945.2L1827.7 940.5L1824.3 936.5L1822.5 930.9L1821.5 924.3L1820.8 917.3L1821.5 911.1L1824.3 905.9L1820.8 904.4L1824.3 897.0L1827.7 892.1L1829.5 885.0L1826.7 881.7L1826.0 875.7L1828.1 872.6L1827.7 866.7L1827.7 861.0L1829.1 858.9L1831.2 853.7L1833.6 846.2L1834.3 843.2L1834.7 837.1L1835.0 831.1L1834.7 825.1L1836.7 819.2L1837.8 813.4L1838.5 806.2L1839.2 800.2L1839.2 793.5L1838.8 787.2L1835.3 784.3L1830.5 780.7L1825.3 778.2L1821.8 775.7L1818.4 771.7L1818.4 769.9L1815.2 763.9L1812.8 759.6L1810.4 754.4L1808.7 750.2L1805.5 746.0L1801.4 742.8L1800.7 739.3L1800.7 738.3L1803.5 734.1L1805.2 731.4L1802.1 730.0L1802.4 725.5L1805.2 720.3L1806.2 718.5L1809.4 716.8L1809.4 715.8L1813.2 713.0L1815.2 708.5L1813.9 702.9L1814.2 699.1L1812.5 697.0ZM1829.5 271.4L1846.8 257.4L1857.2 234.3L1867.6 212.8L1874.5 193.8L1891.8 181.0L1916.1 172.9L1943.8 155.6L1968.1 149.4L1988.8 158.5L2006.2 178.3L2020.0 198.8L2042.6 208.3L2030.4 228.1L2021.8 238.3L2018.3 257.4L2014.8 274.8L2018.3 290.8L2014.8 305.6L2013.1 319.5L2016.6 326.1L2007.9 338.6L2006.2 350.5L2006.2 361.7L2001.0 372.3L2006.2 372.3L1995.8 382.5L1988.8 392.1L1978.5 395.0L1969.8 399.6L1961.1 410.3L1952.5 416.3L1943.8 420.5L1940.3 431.0L1936.9 440.3L1935.1 449.9L1931.7 459.2L1929.9 461.9L1924.7 459.2L1919.5 454.9L1914.3 449.9L1910.9 442.5L1907.4 434.9L1903.3 429.4L1900.5 418.8L1897.0 407.6L1896.3 396.8L1904.0 387.4L1902.2 382.5L1893.6 377.5L1893.6 367.1L1890.1 356.2L1888.4 338.6L1883.2 326.1L1878.0 312.7L1871.0 305.6L1860.6 302.7L1850.2 305.6L1843.3 298.3L1836.4 290.8L1836.4 278.1ZM1855.4 446.2L1860.6 436.4L1857.2 431.0L1862.4 424.6L1867.6 414.6L1869.3 408.5L1862.4 403.2L1857.2 397.7L1850.2 392.1L1845.0 381.5L1848.5 377.5L1843.3 369.2L1834.7 363.9L1829.5 361.7L1824.3 356.2L1817.3 348.2L1810.4 345.8L1803.5 336.2L1798.3 336.2L1787.9 334.9L1780.9 336.2L1772.3 341.1L1770.5 352.8L1774.0 367.1L1777.5 374.4L1782.7 375.4L1786.1 377.5L1789.6 379.5L1798.3 378.5L1805.2 380.5L1810.4 375.4L1813.2 380.5L1819.1 387.4L1824.3 394.0L1829.5 395.0L1827.7 405.9L1831.2 408.5L1826.0 418.8L1813.9 421.3L1812.1 427.0L1817.3 428.6L1824.3 427.0L1831.2 433.3L1836.4 439.5L1845.0 444.0L1853.7 447.0ZM1670.1 360.6L1675.3 345.8L1687.4 341.1L1701.2 344.6L1711.6 341.1L1718.6 347.0L1720.3 367.1L1729.0 372.3L1732.4 379.5L1729.0 387.4L1718.6 392.1L1704.7 389.3L1690.9 391.2L1680.5 384.4L1675.3 375.4L1687.4 372.3L1677.0 367.1ZM1647.5 356.2L1652.7 334.9L1663.1 327.3L1675.3 329.9L1680.5 342.3L1670.1 353.9L1661.4 363.9L1654.5 364.9ZM1770.5 298.3L1777.5 282.9L1780.9 266.2L1770.5 248.1L1767.1 223.9L1777.5 205.9L1798.3 181.0L1822.5 167.3L1846.8 167.3L1867.6 181.0L1860.6 205.9L1850.2 221.7L1836.4 246.2L1822.5 257.4L1819.1 274.8L1808.7 290.8L1805.2 302.7L1787.9 301.3ZM1763.6 323.4L1774.0 324.7L1787.9 326.1L1801.7 324.7L1806.2 319.5L1803.5 309.9L1791.3 308.5L1777.5 311.3L1770.5 305.6L1763.6 299.8L1755.0 308.5ZM1751.5 271.4L1765.4 266.2L1775.7 257.4L1767.1 228.1L1755.0 221.7L1748.0 248.1ZM1677.0 316.8L1690.9 326.1L1704.7 326.1L1715.1 319.5L1715.1 307.0L1704.7 295.3L1690.9 301.3L1678.7 301.3ZM1729.0 361.7L1739.4 362.8L1746.3 348.2L1744.6 336.2L1732.4 334.9L1727.2 347.0ZM1751.5 356.2L1758.4 356.2L1770.5 334.9L1760.2 331.2L1751.5 336.2ZM1732.4 319.5L1742.8 319.5L1744.6 298.3L1734.2 295.3L1727.2 305.6ZM1656.2 305.6L1670.1 308.5L1680.5 298.3L1673.5 282.9L1663.1 290.8ZM1737.6 386.4L1744.6 391.2L1751.5 384.4L1746.3 378.5ZM1780.9 431.0L1787.9 437.2L1794.8 432.5L1803.5 433.3L1805.2 426.2L1798.3 417.1L1789.6 416.3L1784.4 420.5ZM1876.9 534.0L1883.2 534.0L1890.1 537.6L1895.3 538.6L1898.8 538.6L1899.8 534.5L1897.7 529.3L1895.3 524.6L1890.1 522.4L1888.4 518.6L1890.1 513.1L1886.6 514.8L1883.2 521.3L1879.7 527.7ZM1637.8 517.0L1647.5 520.3L1654.5 528.3L1654.5 530.4L1649.3 527.7L1642.3 522.4ZM1621.6 497.6L1625.7 498.8L1627.8 509.2L1624.0 504.6ZM1547.1 477.3L1554.0 472.0L1555.7 477.3L1550.5 481.7ZM1787.9 644.2L1794.8 640.1L1801.7 639.3L1806.9 641.2L1813.9 644.6L1820.8 648.3L1825.3 650.5L1822.5 651.6L1813.9 651.6L1812.1 648.7L1806.9 645.3L1800.0 643.1L1794.8 643.8ZM1824.3 657.1L1831.2 658.2L1834.7 659.7L1839.8 657.5L1845.4 657.1L1843.3 653.8L1838.1 652.0L1832.9 651.6L1828.1 652.0L1830.1 654.9ZM1811.1 657.5L1818.0 658.6L1815.6 656.8ZM1849.6 657.1L1855.1 657.1L1854.7 658.6L1849.6 658.6ZM1871.0 930.9L1878.0 929.8L1882.1 931.4L1878.0 935.4L1871.0 933.7ZM1718.6 282.9L1732.4 279.7L1739.4 266.2L1729.0 253.7L1716.8 262.7ZM1742.8 278.1L1753.2 278.1L1756.7 266.2L1746.3 259.2ZM1505.5 498.8L1510.7 497.0L1507.2 501.7ZM1498.5 501.7L1503.7 500.0L1500.3 504.1ZM1489.9 506.9L1495.1 505.2L1491.6 508.6ZM1477.8 508.6L1483.0 508.1L1479.5 510.3ZM1467.4 510.9L1472.6 510.3L1469.1 512.6ZM1457.0 512.0L1462.2 510.9L1458.7 513.7Z" fill="#ffffff" stroke="#c9c9c9" stroke-width="1" stroke-linejoin="round"/>
<path d="M1004.8 540.1L1011.7 538.1L1018.6 539.6L1018.6 547.0L1013.4 549.5L1009.3 549.5L1011.7 554.3L1016.9 559.0L1018.0 563.7L1020.4 568.3L1018.6 572.8L1021.4 577.3L1021.8 582.5L1015.2 584.7L1010.0 583.8L1006.5 581.6L1004.8 577.3L1005.8 572.8L1007.2 568.3L1004.8 563.7L1003.4 562.3L999.9 556.7L999.6 549.5L997.9 544.6L1001.3 542.1ZM1037.7 539.1L1044.6 539.1L1046.4 544.6L1042.9 549.5L1038.7 549.5L1037.0 544.6ZM1089.7 539.6L1094.9 538.1L1101.8 539.1L1108.7 539.6L1108.7 542.1L1101.8 542.6L1094.9 544.1L1090.7 544.1ZM944.8 725.1L947.6 721.3L952.1 721.0L953.5 723.4L952.8 727.2L951.1 730.3L948.7 731.0L945.9 729.6L945.2 727.2ZM1763.6 528.3L1775.7 530.4L1782.7 534.5L1788.6 538.1L1787.9 532.4L1782.7 528.3L1775.7 527.2ZM1778.2 543.1L1782.7 543.1L1786.1 547.0L1783.4 554.3L1779.2 562.3L1777.8 556.7L1779.2 549.5ZM1789.6 542.6L1796.5 543.1L1803.5 545.5L1803.5 549.5L1799.3 554.8L1796.5 556.2L1793.1 551.9L1793.8 547.0ZM1793.8 562.3L1801.7 562.8L1808.7 558.1L1805.2 557.6L1798.3 560.0ZM1806.2 555.2L1815.6 555.2L1818.4 551.9L1812.1 551.9ZM1739.4 500.0L1744.6 500.0L1748.0 515.9L1746.3 519.2L1741.1 510.3ZM1677.0 453.5L1687.4 453.5L1697.8 442.5L1703.0 440.3L1694.3 449.9L1682.2 454.2ZM1654.5 421.3L1663.1 421.3L1673.5 410.3L1670.1 405.9L1659.7 412.9L1651.0 412.9Z" fill="#cde5ee" stroke="#c9c9c9" stroke-width="0.6"/>
<path d="M827.4 592.0L829.1 598.7L830.8 603.6L824.6 606.1L822.5 610.1L815.9 613.7L804.9 618.1L804.9 622.0M789.3 622.0L804.9 622.0L804.9 628.6L793.4 628.6L793.4 638.2L790.0 640.1L790.0 646.4L776.1 646.4M804.9 623.6L818.4 632.5L812.5 632.5L815.9 664.0L816.6 664.7L815.6 667.6L802.8 667.6L797.9 668.0L795.2 667.3L792.7 670.1M818.4 632.5L839.2 647.2L841.2 650.1L846.1 652.0L849.7 654.4L855.1 653.1L861.0 647.9L876.6 638.2M876.6 638.2L870.7 634.4L867.9 627.1L869.3 619.7L867.9 612.1L866.5 604.5L861.0 597.4L863.4 593.7L864.1 584.3M867.9 612.1L870.3 608.9L874.8 604.0L874.8 599.9M922.3 606.5L921.6 616.1L921.6 643.8L962.9 643.8M921.6 643.8L921.6 651.2L918.2 651.2L918.2 653.1L890.4 638.2L887.0 640.1L884.2 641.6L876.6 638.2M887.0 640.1L888.7 647.5L888.7 662.6L882.1 671.2L881.8 674.1M918.2 653.1L918.2 666.9L914.3 667.6L913.0 672.3L911.9 677.6L914.3 684.0L916.8 688.9L919.9 691.4L922.3 695.6L929.9 704.7M849.7 654.4L849.6 662.9L847.5 667.3L839.5 668.3L835.7 669.8L832.6 669.4L828.1 672.3L821.5 675.1L820.1 677.6L816.6 680.8L815.9 685.8M835.7 669.8L836.4 673.0L838.5 675.1L843.0 679.0L847.5 681.2M792.7 670.1L795.5 676.9L795.5 678.7L787.5 677.6L781.3 677.6L777.1 678.7M776.8 676.2L783.0 673.7L787.2 675.1L783.0 675.5L776.8 674.4M795.5 678.7L797.9 680.1L802.8 678.3L805.9 682.2L807.3 686.5L806.6 692.4L802.4 696.3L799.3 692.4L795.2 687.2L791.7 687.5L788.9 690.7M799.3 692.4L795.2 698.0M806.6 692.4L805.9 695.6L809.0 701.5L809.0 706.7M815.9 685.8L824.6 687.5L825.6 689.3L823.9 699.4L825.3 704.3M824.6 687.5L825.3 683.6L833.3 683.6L838.1 683.6M838.1 683.6L834.7 685.1L836.4 691.4L837.4 699.4L839.2 700.8M838.1 683.6L839.9 689.6L840.5 699.1L840.9 700.5M844.4 699.8L844.7 690.7L847.5 681.2L848.9 674.8L859.3 676.6L869.6 675.5L881.8 674.1L884.2 678.3L885.6 681.9L881.1 687.2L876.6 694.2L873.1 698.7L866.2 704.7L864.5 705.3M884.2 678.3L887.0 679.8L887.3 684.4L883.5 687.9L888.7 695.9L885.2 701.2L885.9 706.0L890.4 714.4L881.1 714.4L874.2 714.4L869.0 714.0M885.9 706.0L892.2 708.1L899.4 706.4M888.7 695.9L897.4 694.2L900.8 690.7L910.2 685.1L914.3 684.0M869.0 718.5L874.2 718.5L874.2 714.4M881.1 714.4L885.2 718.9L885.2 727.2L880.0 730.3L875.5 731.7L873.8 735.5M874.2 714.4L881.1 714.4M890.4 714.4L892.2 716.1L896.7 724.8M968.4 658.6L963.2 662.2L961.5 669.4L960.1 677.6L956.3 683.6L953.2 688.9L949.3 694.2L952.5 695.9L959.4 706.0M961.5 671.2L966.3 670.1L973.6 671.2L981.9 678.3M949.3 694.2L939.0 687.2L932.0 688.9L925.1 686.5L919.9 691.4M959.4 706.0L952.8 707.4L945.9 709.5L942.1 709.9M984.7 681.9L983.3 684.0L987.5 690.7L997.9 694.2L1001.3 694.2L990.9 704.7L984.0 707.4L980.5 707.8L977.1 708.5L977.1 724.8L978.8 727.9M984.7 681.9L981.9 678.3M977.1 708.5L971.9 709.9L966.7 709.5L959.7 706.4L959.4 706.0M959.4 706.0L954.2 709.2L952.8 718.5L952.5 725.5L965.3 732.4L965.6 734.1L970.8 738.3M952.5 725.5L940.7 725.5L937.6 726.9M942.1 709.9L943.1 714.4L937.9 719.2L937.6 726.9L936.2 731.0L936.2 737.3L937.6 744.6L941.7 750.9M940.7 725.5L941.7 730.3L940.7 734.1L939.0 737.3L936.2 737.3M936.2 731.0L941.7 730.3M975.0 758.6L966.7 761.4L959.0 762.1L954.9 762.1M941.7 750.9L949.0 754.7L952.8 755.1L954.9 762.1L954.2 772.4L959.0 778.2L957.3 782.2L953.8 777.5L949.3 771.0L940.3 776.7M954.2 772.4L949.3 771.0M949.0 754.7L950.4 765.7L949.3 771.0M877.6 742.8L880.0 742.1L885.2 739.0L888.7 736.6L891.1 729.6L896.7 724.8L896.7 718.5L899.1 709.9L899.4 706.4L913.0 707.4L919.9 704.3L929.9 704.7L937.2 706.4L942.1 709.9M941.7 750.9L935.1 751.6L933.4 754.4L934.4 759.3L933.4 763.5L938.3 764.6L938.3 768.9L932.0 765.0L925.1 763.5L919.2 761.4L918.2 767.4L911.2 767.4L911.2 761.1L911.9 760.0L910.5 755.1L910.9 747.4L904.3 746.3L902.6 749.5L896.0 750.2L892.5 742.5L880.0 742.5L877.6 742.8M875.9 782.9L883.5 783.2L898.8 783.2L907.8 785.4L916.1 784.0L922.7 784.7M916.1 784.0L911.2 778.9L911.2 767.4M907.8 786.5L907.8 800.2L904.3 800.2L904.3 824.7L900.8 826.7L895.6 825.1L892.2 825.5M904.3 810.7L907.1 818.4L913.7 813.4L920.6 814.6L924.7 810.4L928.6 806.2L936.9 800.9M936.9 800.9L932.0 798.7L931.0 794.6L925.8 789.1L922.7 784.7L928.6 785.1L934.8 780.0L940.3 776.7M936.9 800.9L943.5 801.7L947.3 797.6L948.7 790.9L949.0 781.8L942.4 778.2L940.3 776.7M943.5 801.7L945.9 809.6L945.5 818.4L949.0 818.8M928.6 829.5L933.8 825.5L936.9 829.5L932.7 833.5L928.6 829.5M942.4 815.4L945.5 815.4L945.9 819.2L942.4 820.0L941.7 817.3L942.4 815.4M1287.5 559.5L1284.8 556.7L1278.5 561.4L1274.7 562.3L1265.7 570.5M1274.0 580.3L1279.9 576.8M1239.4 522.4L1235.2 530.9L1236.9 532.9L1245.6 532.9L1249.8 538.6L1241.8 540.1L1230.0 547.0L1222.7 546.5L1219.6 554.8L1213.7 559.5L1198.8 563.2L1184.3 558.1L1169.0 558.1L1165.6 550.4L1150.0 545.5L1146.8 532.9L1139.2 525.6M1139.2 525.6L1132.3 536.5L1122.6 536.0L1120.2 544.6L1112.2 547.0L1115.0 555.7L1112.9 560.4L1101.5 566.0L1090.0 572.8L1090.7 576.8L1094.5 583.0L1101.1 589.4L1105.3 590.3L1108.7 595.3L1107.7 602.4L1108.4 607.7L1115.7 612.1L1126.1 617.3L1133.0 620.9L1140.3 621.3L1143.4 623.6L1153.8 621.7L1160.7 616.5L1168.3 615.7L1172.1 619.7L1177.0 622.4L1176.6 629.4L1173.2 636.3L1177.3 636.3L1178.4 643.1L1185.3 644.6L1188.8 642.3L1193.6 641.6L1199.9 638.9L1204.4 640.8L1209.2 645.7M1112.9 560.4L1108.7 557.6L1097.6 557.1L1089.7 559.5L1081.0 560.0L1080.7 560.4L1074.1 564.6L1070.6 566.0L1065.4 565.5L1063.7 559.5L1064.0 556.7L1059.9 553.3L1049.8 554.3L1046.7 550.4L1038.0 544.1L1029.0 547.0L1029.0 564.6L1025.2 561.8L1021.4 560.9L1016.9 562.3M1080.7 560.4L1082.7 564.6L1087.9 566.9L1082.7 569.6L1079.3 568.3L1075.1 569.6L1079.6 572.3L1090.0 572.8M1075.1 569.6L1072.4 572.8L1068.9 574.1L1071.3 578.1L1070.6 583.8M1029.0 564.6L1032.5 564.6L1038.0 558.1L1042.9 560.4L1043.2 564.1L1049.5 565.5L1051.6 570.5L1057.8 575.5L1065.4 582.1M1021.8 582.5L1029.7 579.0L1033.5 578.6L1040.5 581.6L1047.1 585.6L1047.1 589.8L1050.9 591.1L1058.5 586.8L1065.4 582.1L1070.6 583.8L1075.1 583.4L1078.2 581.2L1079.3 578.1L1082.1 579.5L1083.1 585.1L1089.0 582.1L1094.5 583.0M1047.1 589.8L1044.6 596.6L1046.0 606.9L1049.1 607.3L1046.0 613.7L1052.6 624.0L1054.0 626.3L1048.4 631.7M1046.0 613.7L1051.6 615.3L1057.1 615.3L1064.7 613.3L1066.1 608.1L1073.0 606.1L1075.1 604.9L1078.6 599.1L1081.4 596.2L1083.1 590.3L1081.7 587.7L1094.5 583.0M1003.1 612.9L1000.3 608.9L1001.0 604.9L994.7 600.8L992.3 596.6L995.1 592.0L992.3 588.1L990.2 583.0L988.2 579.5L988.8 573.2L990.2 571.9L996.1 575.5L1001.3 571.9L1004.4 577.7M960.4 588.1L962.2 584.7L966.7 584.7L973.6 584.7L981.9 583.4L990.2 583.0M978.8 563.7L985.7 565.5L986.4 570.1L990.2 571.9M985.7 565.5L990.9 564.6L996.1 562.3M990.9 564.6L992.7 567.4L996.1 572.8L996.1 575.5M981.9 583.4L978.1 586.4L977.1 594.9L969.4 599.1L970.8 604.0L963.2 606.9L966.7 610.9L964.9 612.9L960.1 616.1L956.3 615.3M969.4 599.1L962.5 603.6L958.7 602.0L958.4 599.5L961.8 595.8L959.7 594.1M958.4 599.5L956.6 600.3M958.0 602.0L958.0 606.9L956.3 614.9M953.8 607.7L955.9 614.9M970.8 604.0L975.0 605.3L980.9 608.5L989.9 616.1L996.1 616.5L999.6 616.9L1001.3 615.3M996.1 616.5L1000.3 612.5L1001.3 612.9M983.3 664.4L984.7 660.8L989.2 660.8L997.9 662.2L1002.0 657.8L1015.2 654.9L1025.6 651.2L1028.0 643.8L1026.3 641.2L1017.3 640.5L1013.8 635.5M1015.2 654.9L1019.0 663.7M1026.3 641.2L1029.0 635.9L1030.4 632.9M1071.3 637.4L1073.4 635.2L1081.0 634.8L1078.6 629.8L1077.9 626.7L1075.8 624.8L1079.6 620.9L1084.5 618.9L1089.3 613.3L1093.1 608.9L1093.1 602.8L1096.3 603.6L1091.4 599.9L1091.4 593.7L1101.1 589.4M1112.5 617.7L1118.4 621.3L1123.6 623.2L1128.5 624.0L1132.3 626.3L1140.3 627.1L1140.3 621.3M1115.7 612.1L1112.5 617.7M1143.4 623.6L1143.4 625.6L1153.8 625.6L1153.8 621.7M1143.7 644.2L1142.7 639.3L1140.3 634.4L1141.3 627.5L1145.8 627.9L1146.2 631.7L1155.2 632.1L1154.5 635.5L1151.0 637.4L1152.0 640.1L1154.8 637.4L1155.9 644.6L1154.8 647.5M1155.9 644.6L1157.9 643.1L1158.6 636.3L1162.8 631.7L1164.9 626.7L1171.5 624.4L1172.1 619.7M1185.3 644.6L1181.8 649.8L1178.0 651.2L1173.9 656.8L1177.0 664.7L1175.3 668.7L1178.7 676.6L1179.8 680.8L1177.0 686.5M1181.8 649.8L1183.2 653.1L1185.7 653.1L1185.3 660.4L1188.8 657.8L1193.3 657.1L1197.8 660.8L1198.1 664.7L1200.9 668.0L1199.5 671.9M1188.8 642.3L1191.9 648.3L1197.4 649.8L1195.4 653.5L1199.5 656.4L1204.0 662.6L1207.5 668.7L1207.5 670.5L1207.5 678.3L1202.3 681.2L1201.9 683.6L1197.1 685.8M1190.2 680.1L1190.2 674.4L1193.6 671.6L1199.5 671.9L1202.3 673.0L1207.5 670.5M1181.8 699.8L1185.3 702.2L1188.8 700.5M1214.8 715.1L1217.9 718.9L1222.4 718.5L1224.8 716.8L1231.7 716.8L1233.5 712.3L1235.2 707.1L1242.5 707.4M1323.6 731.0L1323.6 753.7M1264.7 754.0L1268.1 754.7L1268.8 752.3M804.5 561.8L806.6 560.9L812.1 561.8L813.5 563.2L811.1 566.0L810.7 571.9L809.0 572.3L810.7 578.6L809.4 583.0M828.8 554.8L837.4 557.6L840.9 559.0L846.1 559.5M861.0 552.8L859.3 550.9L858.9 546.5L859.3 542.6L856.1 541.1L858.6 534.5L861.3 534.0L863.4 526.7L857.2 524.0L855.1 524.0L849.6 521.3L843.7 515.4M846.8 513.7L852.3 513.1L855.8 515.9L856.1 510.9L859.3 509.2L859.9 502.9M855.8 515.9L857.2 519.7L857.2 524.0M864.8 493.5L867.6 494.1M884.5 499.4L883.9 505.8L885.9 510.3L887.0 515.9L886.3 516.5L876.9 519.7L878.3 524.0L882.8 527.7L880.0 534.5L871.4 534.5L868.3 534.5L861.3 534.0M868.3 534.5L871.0 537.6L871.0 539.6L866.2 543.1L864.5 541.1L859.3 542.6M871.0 537.6L878.0 538.6L882.5 539.6L890.8 537.6L894.3 531.9L893.9 528.8L887.0 526.7L882.8 527.7M886.3 516.5L891.1 518.6L900.1 524.0L913.0 526.2L918.2 518.6L916.8 513.1L916.4 506.9L917.8 499.4L916.4 498.8L914.0 496.4M893.9 528.8L900.1 524.0M916.4 498.8L924.1 497.6L927.2 489.2L932.7 486.1M907.8 486.1L918.2 484.9L927.2 488.6M919.5 474.7L925.1 475.3L930.3 477.3M916.8 513.1L928.6 513.1L940.7 514.2L944.1 509.8M913.0 526.2L911.9 529.8L918.2 532.4L927.2 530.4L930.3 529.8L935.8 532.4L939.3 540.1L935.1 542.1L932.7 544.6L937.9 546.0M927.2 530.4L932.7 544.6M894.3 531.9L900.1 532.9L906.0 529.3L911.9 529.8L914.3 532.4L908.5 540.6L905.3 541.6L900.1 542.6L892.2 539.6L890.8 537.6M905.3 541.6L909.5 547.0L913.0 549.5L913.7 550.9L919.9 553.3L928.6 551.4L934.1 553.3M913.7 550.9L912.6 557.6L914.3 564.6L919.9 563.7L926.1 562.8L932.0 561.4M926.1 562.8L925.1 566.9M882.1 544.6L888.0 544.6L892.2 539.6M900.1 542.6L900.8 547.5L890.4 546.0L889.7 550.9L896.0 556.7L899.1 559.5M900.8 547.5L902.6 551.9L901.5 554.3L905.7 557.6L904.6 559.0L901.9 561.8M905.7 557.6L912.6 560.0M904.6 559.0L906.4 565.5L907.8 566.9L914.3 564.6M906.4 565.5L904.3 571.9M918.5 416.3L916.4 401.4L906.4 386.4L908.8 384.4L924.1 388.3L925.1 380.5L932.0 376.5L935.5 384.4L941.7 379.5M874.8 467.4L878.3 457.1L877.3 449.9L877.3 438.7L883.5 427.0L885.2 414.6L891.8 401.4L897.4 392.1L906.4 386.4M809.4 492.8L806.9 496.4L810.1 497.6L813.5 498.2M1282.0 774.2L1282.0 837.9M1313.2 780.7L1313.2 815.4L1323.6 815.4L1323.6 865.0M1282.0 815.4L1313.2 815.4M1323.6 827.1L1351.3 825.5L1366.9 823.9M1323.6 847.4L1330.5 851.6L1344.4 855.9L1354.8 862.4M1593.8 460.5L1753.9 460.5M1593.8 381.5L1593.8 458.5L1600.8 460.5L1606.0 468.0L1612.9 462.6L1619.8 470.7L1625.7 483.0L1631.9 486.7L1631.3 492.8M1656.9 526.7L1752.5 526.7L1754.3 527.7L1763.6 530.4L1772.3 531.9L1776.1 530.4L1788.6 538.1L1793.1 542.1L1796.5 545.5L1796.9 556.7L1794.5 560.9L1796.5 562.8L1808.7 557.6L1808.7 554.3L1817.3 551.9L1822.5 547.0L1834.7 547.0L1837.1 545.1L1839.8 538.6L1842.6 535.0L1846.8 535.5L1847.5 543.1L1850.2 547.5M1676.6 602.8L1684.6 602.8L1697.8 607.7L1707.5 607.7L1707.5 605.7L1713.4 605.7L1720.3 614.5L1724.8 616.9L1727.2 613.7L1731.0 613.7L1737.6 622.8L1739.4 627.1L1745.6 629.0M1762.9 670.9L1763.6 668.7L1764.7 665.8L1768.8 665.5L1767.1 661.5L1767.1 659.3L1773.3 659.3L1773.3 666.2L1774.4 666.2M1773.3 659.3L1776.4 657.1M1770.2 673.7L1772.6 671.6L1773.3 666.2M1772.6 671.6L1775.7 673.0L1778.2 675.1M1779.9 676.6L1782.0 673.7L1785.4 673.0L1789.6 670.5L1794.1 669.4M1785.4 683.3L1788.9 683.6L1792.4 684.0M1794.8 693.1L1795.5 688.6M1832.9 680.1L1831.2 683.3L1829.8 687.2L1831.5 692.4L1832.6 696.3L1839.5 697.7L1841.9 700.8L1848.5 700.5L1847.5 707.1L1849.2 712.3L1850.2 717.8M1850.2 717.8L1840.5 716.1L1839.8 720.3L1841.9 725.5L1839.8 736.6M1839.8 736.6L1832.9 730.3L1827.7 726.2L1821.5 722.3L1815.6 721.0L1809.4 717.1M1821.5 722.3L1820.8 727.2L1815.6 731.7L1810.7 734.1L1808.7 739.3L1804.2 737.3L1804.2 733.8M1850.2 717.8L1855.4 719.2L1860.6 715.1L1860.6 708.1L1864.8 708.1L1871.0 706.4L1872.1 704.0L1874.5 704.7M1872.1 704.0L1869.6 701.2L1873.5 697.3L1874.5 692.4M1874.5 704.7L1875.2 706.7L1875.5 713.3L1878.7 717.5L1886.6 715.4M1884.2 701.2L1883.9 703.6L1881.4 708.1L1886.6 715.4L1893.2 714.0M1895.3 701.9L1893.9 706.4L1893.2 714.0L1899.1 714.4L1903.3 708.1M1839.8 736.6L1829.5 739.3L1826.7 747.4L1829.8 754.7L1838.1 755.1L1837.8 760.4L1841.2 760.4M1841.2 760.4L1844.4 766.0L1843.3 772.8L1841.9 776.7L1843.3 780.0L1841.6 783.6L1838.8 786.5M1841.2 760.4L1845.7 760.4L1856.1 756.1L1856.1 762.1L1864.1 766.0L1871.0 769.2L1872.8 770.3L1873.8 778.9L1880.4 779.3L1880.0 782.5L1883.2 785.4L1882.1 789.1L1880.7 792.0L1880.7 793.5M1841.6 783.6L1845.0 789.1L1845.0 794.6L1847.1 803.2L1849.6 803.2L1852.7 799.4L1859.3 803.2L1865.1 800.9M1865.1 800.9L1866.9 794.6L1868.3 791.3L1877.6 790.2L1880.7 793.5M1880.7 793.5L1881.8 800.5L1889.4 801.3L1890.4 807.7L1894.3 808.1L1893.2 813.8M1865.1 800.9L1871.0 806.9L1878.7 810.7L1882.8 813.8L1879.4 820.0L1887.0 821.2L1893.2 813.8M1893.2 813.8L1896.0 818.1L1896.3 820.0L1889.4 824.7L1882.8 831.9M1882.8 831.9L1888.4 834.3L1889.7 834.7L1895.6 839.1L1897.4 846.2M1882.8 831.9L1880.7 841.2L1880.0 847.4M1847.1 803.2L1845.4 809.6L1845.0 816.5L1841.2 824.7L1839.8 831.9L1838.8 839.1L1839.8 844.5L1838.1 852.5L1836.0 858.9L1836.4 868.1L1833.6 875.7L1833.6 882.6L1834.0 889.7L1834.7 897.0L1833.6 902.9L1831.9 911.1L1830.1 920.0L1828.4 926.5L1831.9 929.8L1833.3 933.7L1841.6 934.2L1845.4 935.4M1844.7 937.6L1844.7 950.5M1834.0 652.4L1833.6 656.4L1834.0 659.3" fill="none" stroke="#d3d3d3" stroke-width="0.9" stroke-linejoin="round"/>
<path d="M941.7 379.5L945.9 378.5L949.3 382.5L951.1 384.4L956.3 385.4L961.5 387.4L966.7 394.0L973.6 399.6L977.1 405.9L977.8 410.3L973.6 413.7L968.4 414.6L961.5 412.0L954.5 409.4L948.7 405.0L951.1 410.3L954.9 417.9L955.6 427.0L959.7 431.0L964.9 431.8L966.7 429.4L963.2 422.1L968.4 424.6L973.6 426.2L975.3 427.0L973.6 418.8L978.8 412.9L982.3 410.3L985.7 412.9L988.2 414.6L987.5 405.9L986.8 396.8L985.0 391.2L989.2 392.1L992.7 394.0L996.1 398.7L990.9 404.1L996.1 407.6L1001.3 400.5L1008.2 396.8L1018.6 389.3L1022.1 395.0L1025.6 392.1L1032.5 391.2L1039.4 388.3L1044.6 380.5L1046.4 379.5L1056.8 384.4L1063.7 388.3L1067.2 390.2L1072.4 395.0L1074.1 389.3L1068.9 381.5L1066.5 372.3L1068.9 363.9L1072.4 356.2L1074.1 347.0L1077.5 341.1L1084.5 344.6L1087.3 350.5L1087.3 356.2L1084.5 367.1L1086.2 377.5L1087.9 382.5L1090.7 392.1L1089.7 401.4L1082.7 408.5L1086.2 410.3L1091.4 405.9L1094.2 392.1L1091.4 377.5L1089.7 364.9L1093.1 353.9L1094.9 347.0L1098.3 356.2L1105.3 352.8L1103.5 361.7L1108.7 367.1L1113.9 353.9L1113.9 338.6L1122.6 336.2L1133.0 333.7L1136.5 322.1L1143.4 314.0L1157.2 305.6L1167.6 302.7L1178.0 298.3L1185.0 290.8L1196.4 279.7L1202.3 286.1L1207.5 293.8L1219.6 295.3L1226.5 305.6L1228.3 315.4L1216.2 326.1L1212.7 334.9L1202.3 342.3L1209.2 338.6L1216.2 334.9L1226.5 336.2L1230.0 337.4L1236.9 336.2L1245.6 338.6L1247.3 344.6L1257.7 344.6L1262.9 337.4L1273.3 338.6L1282.0 344.6L1282.0 356.2L1280.3 361.7L1287.2 368.1L1292.4 361.7L1299.3 362.8L1306.2 360.6L1313.2 361.7L1320.1 351.6L1323.6 347.0L1330.5 348.2L1340.9 352.8L1351.3 353.9L1356.5 360.6L1361.7 368.1L1372.1 367.1L1382.5 368.1L1389.4 375.4L1391.1 381.5L1396.3 381.5L1406.7 382.5L1415.4 380.5L1424.0 387.4L1425.8 377.5L1434.4 379.5L1444.8 379.5L1451.8 383.5L1458.7 388.3L1469.1 392.1L1476.0 398.7L1481.2 405.9L1488.2 407.6L1494.4 413.7L1491.6 418.8L1486.4 424.6L1483.0 428.6L1481.2 426.2L1472.6 419.6L1462.2 413.7L1460.4 422.9L1455.2 426.2L1450.0 426.2L1455.2 437.2L1457.0 442.5L1448.3 444.0L1437.9 447.7L1431.0 453.5L1425.8 460.5L1413.7 458.5L1406.7 461.2L1401.5 461.9L1400.8 470.7L1396.3 475.3L1400.5 480.5L1399.1 485.5L1395.6 491.0L1391.1 495.3L1389.4 503.5L1384.5 505.2L1383.2 510.3L1378.0 515.9L1377.3 507.5L1375.5 498.8L1373.8 489.8L1375.5 480.5L1379.0 475.3L1385.9 467.4L1392.9 457.1L1399.8 449.9L1401.5 442.5L1396.3 446.2L1389.4 448.4L1389.4 457.1L1379.0 448.4L1372.1 464.7L1365.1 467.4L1358.2 464.0L1351.3 463.3L1340.9 465.3L1330.5 465.3L1323.6 471.4L1320.1 476.0L1314.9 480.5L1309.7 489.8L1304.5 494.7L1309.7 498.8L1311.4 501.7L1316.6 498.8L1321.8 503.5L1324.6 508.6L1323.6 513.1L1321.8 521.3L1321.8 529.3L1316.6 536.0L1314.9 539.6L1309.7 545.5L1304.5 550.4L1299.3 556.7L1295.8 558.1L1292.0 556.2L1287.9 560.0L1289.6 554.3L1288.9 548.0L1291.7 546.0L1296.9 544.6L1299.3 537.0L1301.7 530.4L1295.8 531.9L1288.9 533.5L1287.2 527.7L1282.0 524.6L1276.8 521.3L1275.1 513.1L1269.9 504.6L1262.9 501.7L1254.3 502.9L1252.5 507.5L1250.8 513.1L1247.3 521.3L1243.2 524.0L1239.4 522.4L1231.7 520.3L1226.5 523.5L1219.6 524.6L1212.7 524.6L1205.8 521.3L1198.8 519.2L1189.5 518.6L1188.4 513.7L1181.5 512.0L1176.3 510.3L1174.6 518.6L1171.1 522.4L1162.4 521.3L1155.5 517.0L1150.3 518.6L1145.1 523.0L1139.9 524.0L1139.2 525.6L1136.5 525.6L1131.3 523.5L1126.1 518.1L1122.6 515.9L1117.4 517.0L1113.9 515.9L1110.5 515.9L1105.3 502.9L1101.1 501.7L1100.1 497.6L1094.9 498.8L1091.4 501.2L1087.9 499.4L1081.0 497.6L1079.3 491.6L1074.1 491.0L1070.6 492.8L1063.7 494.7L1060.2 495.9L1053.3 497.6L1047.4 498.8L1046.4 504.6L1042.9 510.3L1048.1 514.2L1046.4 517.0L1041.2 518.1L1037.7 515.9L1032.5 515.9L1027.3 517.5L1023.8 515.9L1018.6 513.1L1011.7 512.0L1006.5 515.9L1003.1 521.3L997.2 519.7L997.9 525.1L996.1 529.3L997.9 531.9L1003.1 534.5L1004.8 540.1L1001.3 542.1L997.9 544.6L999.6 549.5L999.9 556.7L1003.4 562.3L1000.6 565.1L996.1 562.3L992.7 559.0L987.5 558.5L982.3 555.7L973.6 554.8L972.6 553.8L968.4 550.4L966.0 548.5L962.5 546.5L964.2 545.5L964.9 542.1L967.4 541.1L968.4 537.6L969.8 536.0L971.5 536.5L967.4 536.5L972.9 532.9L973.6 527.7L973.6 523.5L966.7 521.9L964.9 519.7L958.0 519.7L958.0 515.9L952.1 508.6L944.1 509.8L944.1 504.6L947.6 502.9L944.1 500.0L941.7 494.1L942.1 489.2L937.2 488.6L932.7 486.1L932.0 483.6L931.3 478.5L930.3 475.3L930.3 468.7L932.0 464.0L933.4 462.6L936.2 460.5L939.6 461.2L938.3 459.2L934.1 457.1L934.4 455.6L931.3 457.1L939.0 447.7L944.1 439.5L940.7 431.0L938.3 424.6L939.0 417.1L935.5 407.6L937.2 401.4L933.8 395.0L935.5 387.4ZM1013.4 363.9L1018.6 371.3L1027.3 373.4L1035.3 372.3L1033.2 363.9L1034.2 353.9L1036.0 344.6L1041.2 334.9L1048.1 322.1L1056.8 312.7L1067.2 302.7L1074.8 296.8L1075.1 290.8L1068.9 289.2L1058.5 295.3L1046.4 302.7L1037.7 312.7L1030.1 324.7L1024.9 337.4L1019.7 347.0L1015.9 353.9L1012.8 357.3ZM1453.5 367.1L1458.7 369.2L1465.6 367.1L1467.4 362.8L1458.7 360.6L1454.5 362.8ZM1002.4 385.4L1006.5 389.3L1009.3 385.4L1005.8 381.5ZM1167.6 271.4L1178.0 274.8L1185.0 269.7L1191.9 271.4L1198.8 266.2L1195.4 253.7L1185.0 251.8L1174.6 257.4L1167.6 271.4ZM1164.2 253.7L1174.6 246.2L1183.2 244.2L1188.4 232.3L1178.0 217.3L1167.6 212.8L1157.2 223.9L1153.8 238.3L1159.0 248.1ZM1181.5 274.8L1195.4 278.1L1202.3 271.4L1191.9 269.7ZM1309.7 315.4L1316.6 323.4L1323.6 322.1L1330.5 318.1L1337.4 311.3L1334.0 305.6L1321.8 307.0L1313.2 305.6ZM1342.6 315.4L1351.3 320.8L1356.5 318.1L1354.8 311.3L1346.1 312.7ZM1320.1 339.8L1327.0 342.3L1332.2 341.1L1328.8 333.7L1321.8 334.9Z" fill="#d44842" stroke="#d44842" stroke-width="0.8" stroke-linejoin="round"/></g>
<g id="ranges"><path d="M1190.0 190.0C1200.7 190.5 1218.2 194.2 1229.0 198.0C1239.8 201.8 1247.3 207.3 1255.0 213.0C1262.7 218.7 1269.8 224.5 1275.0 232.0C1280.2 239.5 1283.0 249.8 1286.0 258.0C1289.0 266.2 1289.0 276.0 1293.0 281.0C1297.0 286.0 1303.0 286.7 1310.0 288.0C1317.0 289.3 1326.3 288.0 1335.0 289.0C1343.7 290.0 1353.7 290.8 1362.0 294.0C1370.3 297.2 1373.7 303.3 1385.0 308.0C1396.3 312.7 1413.2 316.5 1430.0 322.0C1446.8 327.5 1472.5 333.2 1486.0 341.0C1499.5 348.8 1504.3 359.8 1511.0 369.0C1517.7 378.2 1523.2 387.8 1526.0 396.0C1528.8 404.2 1529.5 410.7 1528.0 418.0C1526.5 425.3 1523.5 433.5 1517.0 440.0C1510.5 446.5 1501.0 451.3 1489.0 457.0C1477.0 462.7 1457.5 467.8 1445.0 474.0C1432.5 480.2 1420.8 487.2 1414.0 494.0C1407.2 500.8 1406.5 509.0 1404.0 515.0C1401.5 521.0 1401.7 526.7 1399.0 530.0C1396.3 533.3 1394.0 533.7 1388.0 535.0C1382.0 536.3 1370.8 534.7 1363.0 538.0C1355.2 541.3 1348.5 549.5 1341.0 555.0C1333.5 560.5 1325.7 567.2 1318.0 571.0C1310.3 574.8 1301.8 577.5 1295.0 578.0C1288.2 578.5 1281.5 576.7 1277.0 574.0C1272.5 571.3 1271.3 566.2 1268.0 562.0C1264.7 557.8 1261.5 551.3 1257.0 548.5C1252.5 545.7 1248.2 545.1 1241.0 545.0C1233.8 544.9 1223.7 547.4 1214.0 548.0C1204.3 548.6 1194.0 548.6 1183.0 548.6C1172.0 548.6 1157.7 548.8 1148.0 548.0C1138.3 547.2 1132.8 546.3 1125.0 544.0C1117.2 541.7 1107.5 537.2 1101.0 534.0C1094.5 530.8 1090.5 526.8 1086.0 524.6C1081.5 522.4 1077.8 519.8 1074.0 521.0C1070.2 522.2 1067.5 528.8 1063.0 532.0C1058.5 535.2 1052.2 539.2 1047.0 540.5C1041.8 541.8 1035.8 538.9 1032.0 540.0C1028.2 541.1 1025.8 543.2 1024.5 547.0C1023.2 550.8 1024.8 557.8 1024.0 563.0C1023.2 568.2 1022.7 574.3 1020.0 578.0C1017.3 581.7 1013.2 584.2 1008.0 585.0C1002.8 585.8 996.7 585.3 989.0 583.0C981.3 580.7 968.6 575.5 962.0 571.0C955.4 566.5 951.7 561.5 949.5 556.0C947.3 550.5 950.6 542.5 949.0 538.0C947.4 533.5 944.5 532.7 940.0 529.0C935.5 525.3 927.2 520.7 922.0 516.0C916.8 511.3 912.7 506.2 909.0 501.0C905.3 495.8 901.7 490.2 900.0 485.0C898.3 479.8 898.3 475.2 899.0 470.0C899.7 464.8 902.5 459.2 904.0 454.0C905.5 448.8 908.0 445.0 908.0 439.0C908.0 433.0 906.0 424.5 904.0 418.0C902.0 411.5 898.3 406.0 896.0 400.0C893.7 394.0 890.8 387.5 890.0 382.0C889.2 376.5 889.2 372.2 891.0 367.0C892.8 361.8 896.3 356.2 901.0 351.0C905.7 345.8 913.0 339.5 919.0 336.0C925.0 332.5 931.3 330.5 937.0 330.0C942.7 329.5 948.7 331.8 953.0 333.0C957.3 334.2 960.3 337.3 963.0 337.0C965.7 336.7 965.5 335.2 969.0 331.0C972.5 326.8 977.2 318.5 984.0 312.0C990.8 305.5 1001.3 297.5 1010.0 292.0C1018.7 286.5 1027.5 282.7 1036.0 279.0C1044.5 275.3 1052.5 272.8 1061.0 270.0C1069.5 267.2 1079.7 264.7 1087.0 262.0C1094.3 259.3 1100.2 257.2 1105.0 254.0C1109.8 250.8 1113.0 247.5 1116.0 243.0C1119.0 238.5 1119.2 232.5 1123.0 227.0C1126.8 221.5 1132.0 215.3 1139.0 210.0C1146.0 204.7 1156.5 198.3 1165.0 195.0C1173.5 191.7 1179.3 189.5 1190.0 190.0Z" fill="none" stroke="#13ad8f" stroke-width="6" stroke-linejoin="round"/>
<path d="M676.0 346.2C677.7 349.7 682.7 360.2 686.0 367.1C689.3 374.0 692.7 380.9 696.0 387.7C699.3 394.4 702.7 401.1 706.0 407.7C709.3 414.2 712.7 420.7 716.0 427.0C719.3 433.3 722.7 439.4 726.0 445.4C729.3 451.4 732.7 457.2 736.0 462.7C739.3 468.3 742.7 473.7 746.0 478.9C749.3 484.0 752.7 488.9 756.0 493.6C759.3 498.2 762.7 502.6 766.0 506.7C769.3 510.8 772.7 514.6 776.0 518.2C779.3 521.8 782.7 525.1 786.0 528.3C789.3 531.4 792.7 534.3 796.0 537.0C799.3 539.8 802.7 542.3 806.0 544.7C809.3 547.1 812.7 549.3 816.0 551.4C819.3 553.5 822.7 555.5 826.0 557.3C829.3 559.2 832.7 561.0 836.0 562.6C839.3 564.3 842.7 565.9 846.0 567.4C849.3 568.9 852.7 570.4 856.0 571.8C859.3 573.2 862.7 574.5 866.0 575.9C869.3 577.2 872.7 578.5 876.0 579.8C879.3 581.0 882.7 582.3 886.0 583.5C889.3 584.7 892.7 585.9 896.0 587.0C899.3 588.2 902.7 589.3 906.0 590.4C909.3 591.6 912.7 592.6 916.0 593.7C919.3 594.8 922.7 595.8 926.0 596.8C929.3 597.9 932.7 598.9 936.0 599.9C939.3 600.9 942.7 601.8 946.0 602.8C949.3 603.8 952.7 604.7 956.0 605.7C959.3 606.6 962.7 607.5 966.0 608.4C969.3 609.4 972.7 610.3 976.0 611.2C979.3 612.1 982.7 613.0 986.0 613.9C989.3 614.8 992.7 615.6 996.0 616.5C999.3 617.4 1002.7 618.3 1006.0 619.2C1009.3 620.1 1012.7 620.9 1016.0 621.8C1019.3 622.7 1022.7 623.6 1026.0 624.5C1029.3 625.4 1032.7 626.3 1036.0 627.2C1039.3 628.1 1042.7 629.0 1046.0 629.9C1049.3 630.8 1052.7 631.7 1056.0 632.6C1059.3 633.5 1062.7 634.4 1066.0 635.3C1069.3 636.2 1072.7 637.1 1076.0 638.0C1079.3 638.9 1082.7 639.7 1086.0 640.6C1089.3 641.5 1092.7 642.4 1096.0 643.2C1099.3 644.1 1102.7 644.9 1106.0 645.7C1109.3 646.6 1112.7 647.4 1116.0 648.2C1119.3 649.0 1122.7 649.8 1126.0 650.6C1129.3 651.4 1132.7 652.1 1136.0 652.9C1139.3 653.6 1142.7 654.3 1146.0 655.0C1149.3 655.7 1152.7 656.4 1156.0 657.1C1159.3 657.7 1162.7 658.4 1166.0 659.0C1169.3 659.6 1172.7 660.2 1176.0 660.8C1179.3 661.3 1182.7 661.8 1186.0 662.4C1189.3 662.9 1192.7 663.3 1196.0 663.8C1199.3 664.2 1202.7 664.6 1206.0 665.0C1209.3 665.4 1212.7 665.8 1216.0 666.1C1219.3 666.4 1222.7 666.7 1226.0 666.9C1229.3 667.1 1232.7 667.3 1236.0 667.5C1239.3 667.7 1242.7 667.8 1246.0 667.9C1249.3 668.0 1252.7 668.0 1256.0 668.0C1259.3 668.0 1262.7 668.0 1266.0 667.9C1269.3 667.8 1272.7 667.7 1276.0 667.6C1279.3 667.4 1282.7 667.3 1286.0 667.0C1289.3 666.8 1292.7 666.6 1296.0 666.3C1299.3 666.0 1302.7 665.7 1306.0 665.3C1309.3 665.0 1312.7 664.6 1316.0 664.2C1319.3 663.7 1322.7 663.3 1326.0 662.8C1329.3 662.3 1332.7 661.8 1336.0 661.3C1339.3 660.7 1342.7 660.2 1346.0 659.5C1349.3 658.9 1352.7 658.3 1356.0 657.7C1359.3 657.0 1362.7 656.3 1366.0 655.6C1369.3 654.9 1372.7 654.1 1376.0 653.3C1379.3 652.5 1382.7 651.7 1386.0 650.9C1389.3 650.0 1392.7 649.1 1396.0 648.1C1399.3 647.1 1402.7 646.1 1406.0 645.0C1409.3 644.0 1412.7 642.8 1416.0 641.6C1419.3 640.4 1422.7 639.2 1426.0 637.9C1429.3 636.6 1432.7 635.2 1436.0 633.7C1439.3 632.2 1442.7 630.7 1446.0 629.1C1449.3 627.5 1452.7 625.8 1456.0 624.0C1459.3 622.2 1462.7 620.3 1466.0 618.4C1469.3 616.4 1472.7 614.4 1476.0 612.2C1479.3 610.1 1482.7 607.8 1486.0 605.5C1489.3 603.2 1492.7 600.7 1496.0 598.2C1499.3 595.7 1502.7 593.1 1506.0 590.5C1509.3 587.8 1512.7 585.0 1516.0 582.2C1519.3 579.4 1522.7 576.5 1526.0 573.5C1529.3 570.5 1532.7 567.4 1536.0 564.3C1539.3 561.2 1542.7 558.0 1546.0 554.7C1549.3 551.4 1552.7 548.1 1556.0 544.7C1559.3 541.3 1562.7 537.9 1566.0 534.4C1569.3 530.9 1572.7 527.3 1576.0 523.7C1579.3 520.1 1582.7 516.4 1586.0 512.7C1589.3 509.0 1592.7 505.2 1596.0 501.4C1599.3 497.6 1602.7 493.7 1606.0 489.8C1609.3 485.9 1612.7 482.0 1616.0 478.0C1619.3 474.0 1622.7 470.0 1626.0 466.0C1629.3 462.0 1632.7 457.9 1636.0 453.9C1639.3 449.8 1642.7 445.7 1646.0 441.6C1649.3 437.5 1652.7 433.4 1656.0 429.3C1659.3 425.2 1662.7 421.1 1666.0 417.0C1669.3 412.9 1672.7 408.8 1676.0 404.7C1679.3 400.7 1682.7 396.6 1686.0 392.6C1689.3 388.5 1692.7 384.5 1696.0 380.6C1699.3 376.6 1702.7 372.7 1706.0 368.8C1709.3 364.9 1712.7 361.0 1716.0 357.2C1719.3 353.4 1722.7 349.6 1726.0 346.0C1729.3 342.3 1732.7 338.6 1736.0 335.1C1739.3 331.5 1742.7 328.0 1746.0 324.6C1749.3 321.1 1752.7 317.8 1756.0 314.5C1759.3 311.3 1762.7 308.1 1766.0 305.0C1769.3 301.9 1772.7 298.9 1776.0 296.0C1779.3 293.1 1782.7 290.3 1786.0 287.6C1789.3 284.9 1792.7 282.3 1796.0 279.8C1799.3 277.3 1802.7 274.9 1806.0 272.6C1809.3 270.3 1812.7 268.1 1816.0 266.0C1819.3 263.9 1822.7 261.9 1826.0 259.9C1829.3 258.0 1832.7 256.2 1836.0 254.4C1839.3 252.7 1842.7 251.0 1846.0 249.5C1849.3 247.9 1852.7 246.4 1856.0 245.0C1859.3 243.6 1862.7 242.3 1866.0 241.1C1869.3 239.9 1872.7 238.8 1876.0 237.7C1879.3 236.7 1882.7 235.7 1886.0 234.8C1889.3 233.9 1892.7 233.1 1896.0 232.4C1899.3 231.7 1902.7 231.1 1906.0 230.5C1909.3 230.0 1912.7 229.5 1916.0 229.1C1919.3 228.7 1922.7 228.3 1926.0 228.1C1929.3 227.8 1932.7 227.7 1936.0 227.6C1939.3 227.5 1942.7 227.4 1946.0 227.5C1949.3 227.5 1952.7 227.7 1956.0 227.8C1959.3 228.0 1962.7 228.3 1966.0 228.6C1969.3 229.0 1972.7 229.3 1976.0 229.8C1979.3 230.3 1982.7 230.8 1986.0 231.4C1989.3 232.0 1992.7 232.7 1996.0 233.4C1999.3 234.1 2002.7 234.9 2006.0 235.8C2009.3 236.6 2012.7 237.5 2016.0 238.5C2019.3 239.5 2022.7 240.5 2026.0 241.6C2029.3 242.7 2032.7 243.9 2036.0 245.1C2039.3 246.3 2042.7 247.5 2046.0 248.9C2049.3 250.2 2052.7 251.6 2056.0 253.0C2059.3 254.4 2062.7 255.9 2066.0 257.4C2069.3 259.0 2072.7 260.6 2076.0 262.2C2079.3 263.8 2082.7 265.5 2086.0 267.3C2089.3 269.0 2092.7 270.8 2096.0 272.6C2099.3 274.5 2102.7 276.4 2106.0 278.3C2109.3 280.2 2112.7 282.2 2116.0 284.2C2119.3 286.2 2122.7 288.3 2126.0 290.4C2129.3 292.5 2132.7 294.6 2136.0 296.8C2139.3 299.0 2142.7 301.3 2146.0 303.5C2149.3 305.8 2152.7 308.1 2156.0 310.5C2159.3 312.9 2162.7 315.3 2166.0 317.7C2169.3 320.2 2172.7 322.7 2176.0 325.2C2179.3 327.7 2182.7 330.3 2186.0 332.9C2189.3 335.5 2192.7 338.2 2196.0 340.9C2199.3 343.6 2202.7 346.3 2206.0 349.1C2209.3 351.9 2212.7 354.7 2216.0 357.6C2219.3 360.4 2222.7 363.3 2226.0 366.3C2229.3 369.2 2232.7 372.2 2236.0 375.2C2239.3 378.2 2242.7 381.2 2246.0 384.3C2249.3 387.4 2252.7 390.5 2256.0 393.7C2259.3 396.9 2262.7 400.1 2266.0 403.3C2269.3 406.5 2272.7 409.8 2276.0 413.1C2279.3 416.4 2282.7 419.8 2286.0 423.2C2289.3 426.5 2292.7 430.0 2296.0 433.4C2299.3 436.9 2302.7 440.4 2306.0 443.9C2309.3 447.4 2312.7 451.0 2316.0 454.5C2319.3 458.1 2322.7 461.8 2326.0 465.4C2329.3 469.1 2334.2 474.5 2336.0 476.5C2337.8 478.5 2336.8 477.4 2337.0 477.6M-10.0 569.5C-6.7 569.4 3.3 569.1 10.0 568.8C16.7 568.5 26.7 567.7 30.0 567.5" fill="none" stroke="#a9a9a9" stroke-width="5.5"/>
<path d="M-10.0 920.7C-7.7 920.7 -0.7 920.5 4.0 920.3C8.7 920.1 13.3 919.8 18.0 919.4C22.7 919.1 27.3 918.6 32.0 918.1C36.7 917.6 41.3 917.1 46.0 916.5C50.7 915.8 55.3 915.1 60.0 914.4C64.7 913.6 69.3 912.8 74.0 911.9C78.7 911.1 83.3 910.1 88.0 909.2C92.7 908.2 97.3 907.1 102.0 906.1C106.7 905.0 111.3 903.8 116.0 902.7C120.7 901.5 125.3 900.3 130.0 899.0C134.7 897.7 139.3 896.4 144.0 895.1C148.7 893.7 153.3 892.3 158.0 890.9C162.7 889.5 167.3 888.1 172.0 886.6C176.7 885.1 181.3 883.6 186.0 882.0C190.7 880.5 195.3 878.9 200.0 877.3C204.7 875.7 209.3 874.1 214.0 872.5C218.7 870.8 223.3 869.2 228.0 867.5C232.7 865.8 237.3 864.1 242.0 862.4C246.7 860.7 251.3 859.0 256.0 857.3C260.7 855.5 265.3 853.8 270.0 852.1C274.7 850.3 279.3 848.6 284.0 846.8C288.7 845.1 293.3 843.3 298.0 841.6C302.7 839.8 307.3 838.1 312.0 836.3C316.7 834.6 321.3 832.8 326.0 831.1C330.7 829.4 335.3 827.6 340.0 825.9C344.7 824.2 349.3 822.5 354.0 820.8C358.7 819.2 363.3 817.5 368.0 815.9C372.7 814.2 377.3 812.6 382.0 811.0C386.7 809.4 391.3 807.8 396.0 806.2C400.7 804.7 405.3 803.2 410.0 801.7C414.7 800.2 419.3 798.7 424.0 797.3C428.7 795.9 433.3 794.5 438.0 793.2C442.7 791.9 447.3 790.6 452.0 789.4C456.7 788.2 461.3 787.0 466.0 785.9C470.7 784.8 475.3 783.7 480.0 782.7C484.7 781.8 489.3 780.8 494.0 780.0C498.7 779.2 503.3 778.4 508.0 777.7C512.7 777.0 517.3 776.4 522.0 775.8C526.7 775.3 531.3 774.9 536.0 774.5C540.7 774.2 545.3 773.9 550.0 773.7C554.7 773.6 559.3 773.5 564.0 773.5C568.7 773.5 573.3 773.6 578.0 773.8C582.7 773.9 587.3 774.2 592.0 774.5C596.7 774.9 601.3 775.3 606.0 775.8C610.7 776.3 615.3 776.8 620.0 777.5C624.7 778.1 629.3 778.8 634.0 779.6C638.7 780.4 643.3 781.2 648.0 782.1C652.7 783.0 657.3 784.0 662.0 785.0C666.7 786.1 671.3 787.2 676.0 788.3C680.7 789.5 685.3 790.7 690.0 791.9C694.7 793.2 699.3 794.5 704.0 795.8C708.7 797.2 713.3 798.6 718.0 800.0C722.7 801.5 727.3 803.0 732.0 804.5C736.7 806.0 741.3 807.5 746.0 809.1C750.7 810.7 755.3 812.3 760.0 814.0C764.7 815.6 769.3 817.3 774.0 818.9C778.7 820.6 783.3 822.3 788.0 824.0C792.7 825.7 797.3 827.5 802.0 829.2C806.7 831.0 811.3 832.7 816.0 834.5C820.7 836.2 825.3 838.0 830.0 839.7C834.7 841.5 839.3 843.2 844.0 845.0C848.7 846.7 853.3 848.5 858.0 850.2C862.7 851.9 867.3 853.7 872.0 855.4C876.7 857.1 881.3 858.8 886.0 860.4C890.7 862.1 895.3 863.7 900.0 865.3C904.7 866.9 909.3 868.5 914.0 870.1C918.7 871.6 923.3 873.2 928.0 874.6C932.7 876.1 937.3 877.6 942.0 879.0C946.7 880.4 951.3 881.7 956.0 883.0C960.7 884.3 965.3 885.6 970.0 886.8C974.7 888.0 979.3 889.2 984.0 890.4C988.7 891.5 993.3 892.6 998.0 893.6C1002.7 894.6 1007.3 895.6 1012.0 896.6C1016.7 897.6 1021.3 898.5 1026.0 899.3C1030.7 900.2 1035.3 901.0 1040.0 901.8C1044.7 902.6 1049.3 903.3 1054.0 904.0C1058.7 904.7 1063.3 905.4 1068.0 906.0C1072.7 906.6 1077.3 907.2 1082.0 907.7C1086.7 908.3 1091.3 908.8 1096.0 909.2C1100.7 909.7 1105.3 910.1 1110.0 910.5C1114.7 910.9 1119.3 911.2 1124.0 911.5C1128.7 911.8 1133.3 912.1 1138.0 912.3C1142.7 912.5 1147.3 912.7 1152.0 912.9C1156.7 913.0 1161.3 913.2 1166.0 913.2C1170.7 913.3 1175.3 913.4 1180.0 913.4C1184.7 913.4 1189.3 913.4 1194.0 913.3C1198.7 913.2 1203.3 913.1 1208.0 913.0C1212.7 912.9 1217.3 912.7 1222.0 912.5C1226.7 912.2 1231.3 912.0 1236.0 911.6C1240.7 911.3 1245.3 911.0 1250.0 910.6C1254.7 910.2 1259.3 909.7 1264.0 909.2C1268.7 908.7 1273.3 908.1 1278.0 907.5C1282.7 906.9 1287.3 906.3 1292.0 905.6C1296.7 904.9 1301.3 904.1 1306.0 903.3C1310.7 902.5 1315.3 901.6 1320.0 900.7C1324.7 899.8 1329.3 898.8 1334.0 897.7C1338.7 896.7 1343.3 895.6 1348.0 894.4C1352.7 893.2 1357.3 892.0 1362.0 890.7C1366.7 889.4 1371.3 888.1 1376.0 886.7C1380.7 885.3 1385.3 883.8 1390.0 882.3C1394.7 880.8 1399.3 879.2 1404.0 877.6C1408.7 876.0 1413.3 874.3 1418.0 872.6C1422.7 870.9 1427.3 869.2 1432.0 867.5C1436.7 865.7 1441.3 863.9 1446.0 862.1C1450.7 860.3 1455.3 858.5 1460.0 856.7C1464.7 854.9 1469.3 853.0 1474.0 851.2C1478.7 849.3 1483.3 847.5 1488.0 845.7C1492.7 843.8 1497.3 842.0 1502.0 840.1C1506.7 838.3 1511.3 836.5 1516.0 834.7C1520.7 832.9 1525.3 831.1 1530.0 829.3C1534.7 827.6 1539.3 825.8 1544.0 824.1C1548.7 822.4 1553.3 820.7 1558.0 819.0C1562.7 817.3 1567.3 815.7 1572.0 814.0C1576.7 812.4 1581.3 810.8 1586.0 809.3C1590.7 807.7 1595.3 806.2 1600.0 804.7C1604.7 803.3 1609.3 801.8 1614.0 800.4C1618.7 799.0 1623.3 797.7 1628.0 796.4C1632.7 795.1 1637.3 793.8 1642.0 792.6C1646.7 791.4 1651.3 790.3 1656.0 789.2C1660.7 788.1 1665.3 787.1 1670.0 786.1C1674.7 785.1 1679.3 784.2 1684.0 783.3C1688.7 782.5 1693.3 781.7 1698.0 781.0C1702.7 780.3 1707.3 779.6 1712.0 779.0C1716.7 778.5 1721.3 777.9 1726.0 777.5C1730.7 777.1 1735.3 776.7 1740.0 776.5C1744.7 776.2 1749.3 776.0 1754.0 775.9C1758.7 775.8 1763.3 775.8 1768.0 775.8C1772.7 775.9 1777.3 776.1 1782.0 776.3C1786.7 776.6 1791.3 776.9 1796.0 777.4C1800.7 777.8 1805.3 778.3 1810.0 779.0C1814.7 779.6 1819.3 780.4 1824.0 781.2C1828.7 782.1 1833.3 783.0 1838.0 784.1C1842.7 785.1 1847.3 786.3 1852.0 787.5C1856.7 788.8 1861.3 790.1 1866.0 791.6C1870.7 793.0 1875.3 794.5 1880.0 796.1C1884.7 797.7 1889.3 799.3 1894.0 801.1C1898.7 802.8 1903.3 804.6 1908.0 806.4C1912.7 808.2 1917.3 810.1 1922.0 812.0C1926.7 814.0 1931.3 816.0 1936.0 818.0C1940.7 820.0 1945.3 822.0 1950.0 824.1C1954.7 826.1 1959.3 828.2 1964.0 830.3C1968.7 832.4 1973.3 834.5 1978.0 836.6C1982.7 838.7 1987.3 840.9 1992.0 843.0C1996.7 845.1 2001.3 847.2 2006.0 849.2C2010.7 851.3 2015.3 853.4 2020.0 855.4C2024.7 857.5 2029.3 859.5 2034.0 861.4C2038.7 863.4 2043.3 865.4 2048.0 867.2C2052.7 869.1 2057.3 871.0 2062.0 872.8C2066.7 874.5 2071.3 876.3 2076.0 877.9C2080.7 879.6 2085.3 881.2 2090.0 882.7C2094.7 884.2 2099.3 885.7 2104.0 887.1C2108.7 888.4 2113.3 889.8 2118.0 891.0C2122.7 892.3 2127.3 893.5 2132.0 894.6C2136.7 895.7 2141.3 896.8 2146.0 897.8C2150.7 898.8 2155.3 899.8 2160.0 900.6C2164.7 901.5 2169.3 902.3 2174.0 903.1C2178.7 903.9 2183.3 904.6 2188.0 905.2C2192.7 905.8 2197.3 906.4 2202.0 906.9C2206.7 907.5 2211.3 907.9 2216.0 908.3C2220.7 908.7 2225.3 909.1 2230.0 909.4C2234.7 909.7 2239.3 909.9 2244.0 910.1C2248.7 910.3 2253.3 910.4 2258.0 910.5C2262.7 910.6 2267.3 910.6 2272.0 910.5C2276.7 910.5 2283.0 910.4 2286.0 910.3C2289.0 910.2 2289.3 910.2 2290.0 910.2" fill="none" stroke="#06344d" stroke-width="5"/>
<path d="M-10.0 1396.2C-8.0 1396.1 -2.0 1395.7 2.0 1395.3C6.0 1394.9 10.0 1394.4 14.0 1393.9C18.0 1393.3 22.0 1392.7 26.0 1392.0C30.0 1391.3 34.0 1390.5 38.0 1389.6C42.0 1388.8 46.0 1387.8 50.0 1386.8C54.0 1385.8 58.0 1384.7 62.0 1383.6C66.0 1382.4 70.0 1381.2 74.0 1379.9C78.0 1378.6 82.0 1377.3 86.0 1375.9C90.0 1374.5 94.0 1373.0 98.0 1371.4C102.0 1369.9 106.0 1368.3 110.0 1366.6C114.0 1365.0 118.0 1363.3 122.0 1361.5C126.0 1359.7 130.0 1357.9 134.0 1356.0C138.0 1354.1 142.0 1352.1 146.0 1350.1C150.0 1348.1 154.0 1346.1 158.0 1344.0C162.0 1341.9 166.0 1339.7 170.0 1337.5C174.0 1335.3 178.0 1333.1 182.0 1330.8C186.0 1328.5 190.0 1326.2 194.0 1323.8C198.0 1321.4 202.0 1319.0 206.0 1316.6C210.0 1314.1 214.0 1311.6 218.0 1309.1C222.0 1306.5 226.0 1304.0 230.0 1301.4C234.0 1298.8 238.0 1296.1 242.0 1293.4C246.0 1290.7 250.0 1288.0 254.0 1285.1C258.0 1282.3 262.0 1279.5 266.0 1276.6C270.0 1273.7 274.0 1270.7 278.0 1267.7C282.0 1264.6 286.0 1261.5 290.0 1258.3C294.0 1255.2 298.0 1251.9 302.0 1248.6C306.0 1245.3 310.0 1241.9 314.0 1238.4C318.0 1234.9 322.0 1231.4 326.0 1227.7C330.0 1224.1 334.0 1220.4 338.0 1216.6C342.0 1212.8 346.0 1208.9 350.0 1205.0C354.0 1201.1 358.0 1197.2 362.0 1193.3C366.0 1189.4 370.0 1185.5 374.0 1181.7C378.0 1177.9 382.0 1174.1 386.0 1170.5C390.0 1166.8 394.0 1163.2 398.0 1159.8C402.0 1156.4 406.0 1153.1 410.0 1150.0C414.0 1146.9 418.0 1143.9 422.0 1141.2C426.0 1138.5 430.0 1136.0 434.0 1133.8C438.0 1131.6 442.0 1129.5 446.0 1127.9C450.0 1126.2 454.0 1124.8 458.0 1123.8C462.0 1122.8 466.0 1122.1 470.0 1121.8C474.0 1121.6 478.0 1121.7 482.0 1122.2C486.0 1122.8 490.0 1123.8 494.0 1125.3C498.0 1126.8 502.0 1128.8 506.0 1131.3C510.0 1133.8 514.0 1136.7 518.0 1140.2C522.0 1143.6 526.0 1147.6 530.0 1151.8C534.0 1156.1 538.0 1160.8 542.0 1165.7C546.0 1170.5 550.0 1175.7 554.0 1180.8C558.0 1186.0 562.0 1191.3 566.0 1196.4C570.0 1201.5 574.0 1206.6 578.0 1211.3C582.0 1216.1 586.0 1220.7 590.0 1225.0C594.0 1229.4 598.0 1233.4 602.0 1237.4C606.0 1241.3 610.0 1245.0 614.0 1248.6C618.0 1252.1 622.0 1255.5 626.0 1258.8C630.0 1262.0 634.0 1265.1 638.0 1268.1C642.0 1271.1 646.0 1274.0 650.0 1276.7C654.0 1279.5 658.0 1282.1 662.0 1284.6C666.0 1287.1 670.0 1289.5 674.0 1291.8C678.0 1294.1 682.0 1296.3 686.0 1298.4C690.0 1300.5 694.0 1302.5 698.0 1304.4C702.0 1306.4 706.0 1308.2 710.0 1309.9C714.0 1311.7 718.0 1313.4 722.0 1315.0C726.0 1316.6 730.0 1318.2 734.0 1319.7C738.0 1321.3 742.0 1322.7 746.0 1324.2C750.0 1325.6 754.0 1327.0 758.0 1328.4C762.0 1329.8 766.0 1331.2 770.0 1332.5C774.0 1333.9 778.0 1335.2 782.0 1336.6C786.0 1337.9 790.0 1339.3 794.0 1340.7C798.0 1342.0 802.0 1343.4 806.0 1344.7C810.0 1346.1 814.0 1347.5 818.0 1348.8C822.0 1350.2 826.0 1351.5 830.0 1352.8C834.0 1354.2 838.0 1355.5 842.0 1356.8C846.0 1358.1 850.0 1359.4 854.0 1360.6C858.0 1361.9 862.0 1363.1 866.0 1364.4C870.0 1365.6 874.0 1366.8 878.0 1368.0C882.0 1369.1 886.0 1370.3 890.0 1371.4C894.0 1372.5 898.0 1373.6 902.0 1374.6C906.0 1375.7 910.0 1376.7 914.0 1377.7C918.0 1378.7 922.0 1379.6 926.0 1380.6C930.0 1381.5 934.0 1382.4 938.0 1383.3C942.0 1384.2 946.0 1385.0 950.0 1385.8C954.0 1386.6 958.0 1387.4 962.0 1388.1C966.0 1388.9 970.0 1389.6 974.0 1390.3C978.0 1391.0 982.0 1391.6 986.0 1392.2C990.0 1392.9 994.0 1393.5 998.0 1394.0C1002.0 1394.6 1006.0 1395.1 1010.0 1395.6C1014.0 1396.1 1018.0 1396.6 1022.0 1397.0C1026.0 1397.4 1030.0 1397.8 1034.0 1398.2C1038.0 1398.6 1042.0 1398.9 1046.0 1399.2C1050.0 1399.5 1054.0 1399.8 1058.0 1400.0C1062.0 1400.2 1066.0 1400.4 1070.0 1400.6C1074.0 1400.8 1078.0 1400.9 1082.0 1401.0C1086.0 1401.1 1090.0 1401.2 1094.0 1401.2C1098.0 1401.2 1102.0 1401.2 1106.0 1401.2C1110.0 1401.2 1114.0 1401.1 1118.0 1401.0C1122.0 1400.9 1126.0 1400.8 1130.0 1400.6C1134.0 1400.4 1138.0 1400.2 1142.0 1400.0C1146.0 1399.7 1150.0 1399.5 1154.0 1399.2C1158.0 1398.9 1162.0 1398.5 1166.0 1398.1C1170.0 1397.8 1174.0 1397.3 1178.0 1396.9C1182.0 1396.4 1186.0 1396.0 1190.0 1395.4C1194.0 1394.9 1198.0 1394.4 1202.0 1393.8C1206.0 1393.2 1210.0 1392.5 1214.0 1391.9C1218.0 1391.2 1222.0 1390.5 1226.0 1389.8C1230.0 1389.0 1234.0 1388.3 1238.0 1387.4C1242.0 1386.6 1246.0 1385.8 1250.0 1384.9C1254.0 1384.0 1258.0 1383.1 1262.0 1382.1C1266.0 1381.2 1270.0 1380.2 1274.0 1379.1C1278.0 1378.1 1282.0 1377.0 1286.0 1375.9C1290.0 1374.8 1294.0 1373.7 1298.0 1372.5C1302.0 1371.3 1306.0 1370.1 1310.0 1368.8C1314.0 1367.6 1318.0 1366.3 1322.0 1365.0C1326.0 1363.6 1330.0 1362.3 1334.0 1360.9C1338.0 1359.5 1342.0 1358.1 1346.0 1356.6C1350.0 1355.1 1354.0 1353.6 1358.0 1352.1C1362.0 1350.6 1366.0 1349.0 1370.0 1347.4C1374.0 1345.8 1378.0 1344.2 1382.0 1342.6C1386.0 1340.9 1390.0 1339.2 1394.0 1337.5C1398.0 1335.8 1402.0 1334.0 1406.0 1332.3C1410.0 1330.5 1414.0 1328.7 1418.0 1326.9C1422.0 1325.0 1426.0 1323.2 1430.0 1321.3C1434.0 1319.4 1438.0 1317.5 1442.0 1315.5C1446.0 1313.6 1450.0 1311.6 1454.0 1309.6C1458.0 1307.6 1462.0 1305.6 1466.0 1303.5C1470.0 1301.5 1474.0 1299.4 1478.0 1297.3C1482.0 1295.2 1486.0 1293.1 1490.0 1290.9C1494.0 1288.8 1498.0 1286.6 1502.0 1284.4C1506.0 1282.2 1510.0 1280.0 1514.0 1277.8C1518.0 1275.5 1522.0 1273.3 1526.0 1271.0C1530.0 1268.7 1534.0 1266.4 1538.0 1264.1C1542.0 1261.7 1546.0 1259.4 1550.0 1257.0C1554.0 1254.6 1558.0 1252.3 1562.0 1249.9C1566.0 1247.4 1570.0 1245.0 1574.0 1242.6C1578.0 1240.1 1582.0 1237.7 1586.0 1235.2C1590.0 1232.7 1594.0 1230.2 1598.0 1227.6C1602.0 1225.1 1606.0 1222.5 1610.0 1219.9C1614.0 1217.3 1618.0 1214.7 1622.0 1212.0C1626.0 1209.4 1630.0 1206.7 1634.0 1203.9C1638.0 1201.2 1642.0 1198.4 1646.0 1195.6C1650.0 1192.8 1654.0 1190.0 1658.0 1187.1C1662.0 1184.2 1666.0 1181.3 1670.0 1178.3C1674.0 1175.4 1678.0 1172.4 1682.0 1169.3C1686.0 1166.3 1690.0 1163.2 1694.0 1160.2C1698.0 1157.1 1702.0 1154.0 1706.0 1150.9C1710.0 1147.9 1714.0 1144.8 1718.0 1141.7C1722.0 1138.6 1726.0 1135.6 1730.0 1132.5C1734.0 1129.5 1738.0 1126.5 1742.0 1123.5C1746.0 1120.6 1750.0 1117.6 1754.0 1114.7C1758.0 1111.8 1762.0 1109.0 1766.0 1106.2C1770.0 1103.5 1774.0 1100.7 1778.0 1098.1C1782.0 1095.5 1786.0 1092.9 1790.0 1090.4C1794.0 1088.0 1798.0 1085.5 1802.0 1083.3C1806.0 1081.0 1810.0 1078.9 1814.0 1076.9C1818.0 1075.0 1822.0 1073.1 1826.0 1071.5C1830.0 1069.9 1834.0 1068.4 1838.0 1067.2C1842.0 1066.0 1846.0 1065.0 1850.0 1064.3C1854.0 1063.5 1858.0 1063.0 1862.0 1062.8C1866.0 1062.7 1870.0 1062.7 1874.0 1063.1C1878.0 1063.5 1882.0 1064.2 1886.0 1065.2C1890.0 1066.2 1894.0 1067.5 1898.0 1069.1C1902.0 1070.8 1906.0 1072.7 1910.0 1074.9C1914.0 1077.1 1918.0 1079.7 1922.0 1082.6C1926.0 1085.4 1930.0 1088.6 1934.0 1092.1C1938.0 1095.6 1942.0 1099.4 1946.0 1103.5C1950.0 1107.6 1954.0 1112.0 1958.0 1116.5C1962.0 1121.1 1966.0 1125.9 1970.0 1130.8C1974.0 1135.8 1978.0 1141.0 1982.0 1146.2C1986.0 1151.5 1990.0 1156.9 1994.0 1162.3C1998.0 1167.7 2002.0 1173.2 2006.0 1178.7C2010.0 1184.1 2014.0 1189.5 2018.0 1194.8C2022.0 1200.1 2026.0 1205.3 2030.0 1210.4C2034.0 1215.5 2038.0 1220.4 2042.0 1225.2C2046.0 1230.0 2050.0 1234.7 2054.0 1239.2C2058.0 1243.8 2062.0 1248.2 2066.0 1252.5C2070.0 1256.8 2074.0 1261.0 2078.0 1265.0C2082.0 1269.0 2086.0 1273.0 2090.0 1276.8C2094.0 1280.5 2098.0 1284.2 2102.0 1287.8C2106.0 1291.3 2110.0 1294.8 2114.0 1298.1C2118.0 1301.4 2122.0 1304.6 2126.0 1307.7C2130.0 1310.8 2134.0 1313.8 2138.0 1316.7C2142.0 1319.6 2146.0 1322.3 2150.0 1325.0C2154.0 1327.7 2158.0 1330.3 2162.0 1332.8C2166.0 1335.2 2170.0 1337.6 2174.0 1339.9C2178.0 1342.2 2182.0 1344.4 2186.0 1346.5C2190.0 1348.6 2194.0 1350.6 2198.0 1352.5C2202.0 1354.5 2206.0 1356.3 2210.0 1358.1C2214.0 1359.8 2218.0 1361.5 2222.0 1363.1C2226.0 1364.7 2230.0 1366.3 2234.0 1367.7C2238.0 1369.2 2242.0 1370.5 2246.0 1371.9C2250.0 1373.2 2254.0 1374.4 2258.0 1375.6C2262.0 1376.8 2266.0 1377.9 2270.0 1378.9C2274.0 1380.0 2278.7 1381.1 2282.0 1381.9C2285.3 1382.7 2288.7 1383.4 2290.0 1383.7" fill="none" stroke="#f4c05c" stroke-width="5"/>
<path d="M783.3 1112V1143M783.3 1176V1210M783.3 1244V1278M783.3 1312V1336" fill="none" stroke="#f4c05c" stroke-width="5" stroke-linecap="round"/>
<rect x="1379.0" y="304.0" width="107.5" height="37.5" rx="3" fill="#13ad8f"/><text x="1385.0" y="334.8" font-family="'Liberation Sans', sans-serif" font-weight="700" font-size="32.4" fill="#fff" textLength="95.5" lengthAdjust="spacingAndGlyphs">500km</text>
<rect x="1386.0" y="587.5" width="135.5" height="37.5" rx="3" fill="#b3aea4"/><text x="1392.0" y="618.3" font-family="'Liberation Sans', sans-serif" font-weight="700" font-size="32.4" fill="#fff" textLength="123.5" lengthAdjust="spacingAndGlyphs">2,500km</text>
<rect x="876.0" y="858.0" width="149.5" height="38.0" rx="3" fill="#06344d"/><text x="882.0" y="888.8" font-family="'Liberation Sans', sans-serif" font-weight="700" font-size="32.4" fill="#fff" textLength="137.5" lengthAdjust="spacingAndGlyphs">11,000km</text>
<rect x="710.0" y="1072.5" width="148.6" height="38.0" rx="3" fill="#f3c15d"/><text x="716.0" y="1103.3" font-family="'Liberation Sans', sans-serif" font-weight="700" font-size="32.4" fill="#fff" textLength="136.6" lengthAdjust="spacingAndGlyphs">16,000km</text></g>
<g id="inset"><clipPath id="insclip"><rect x="29.5" y="182.5" width="651" height="628.5"/></clipPath>
<rect x="28.5" y="181.7" width="652.8" height="629.8" fill="#fff"/>
<g clip-path="url(#insclip)" stroke-linejoin="round" stroke-linecap="round">
<path d="M217.9 180.0L343.2 180.0L341.0 200.0L337.0 220.0L331.0 240.0L327.0 255.0L333.0 265.0L350.0 267.3L358.1 268.9L364.1 274.9L372.2 279.0L380.3 281.0L382.3 285.1L386.4 286.1L396.5 277.0L410.6 274.9L426.8 270.9L438.9 268.9L455.1 260.8L471.2 258.8L491.4 251.7L503.5 250.7L509.6 260.8L521.7 264.8L541.9 262.8L552.0 264.8L562.1 266.9L572.2 268.9L578.3 281.0L582.3 289.1L578.3 289.1L564.1 285.1L552.0 281.0L543.9 285.1L537.9 293.1L525.8 295.2L521.7 299.2L522.7 311.3L511.6 314.3L499.5 313.3L485.4 309.3L471.2 305.3L455.1 304.2L444.9 307.3L432.8 309.3L418.7 309.3L414.6 313.3L400.5 321.4L393.4 329.5L393.4 339.6L398.5 347.7L397.5 357.8L402.5 367.9L408.6 371.9L414.6 361.8L416.7 353.7L419.7 361.8L422.7 369.9L419.7 382.0L418.7 392.1L417.7 402.2L418.7 422.4L416.7 432.5L408.6 438.6L394.4 441.6L386.4 432.5L380.3 420.4L372.2 408.3L368.2 402.2L362.1 403.2L350.0 406.3L343.0 410.3L337.0 422.4L333.3 440.0L325.3 452.1L324.2 470.3L325.3 480.4L327.3 496.6L331.3 510.7L332.3 520.8L331.7 527.3L329.3 541.0L313.1 543.0L296.0 544.0L297.0 553.1L305.1 556.2L301.0 559.2L294.9 565.3L294.4 566.3L287.3 568.3L280.1 573.4L272.0 571.3L261.8 568.3L255.7 557.1L251.7 549.0L237.4 549.0L223.2 553.0L211.0 557.1L198.8 562.2L190.7 570.3L174.4 577.4L158.1 582.5L145.9 587.6L138.8 591.7L133.7 587.6L123.6 581.5L113.4 580.5L111.4 575.4L117.5 569.3L119.5 563.2L111.4 560.2L109.3 554.1L104.3 558.1L108.3 565.2L97.1 568.3L87.0 569.3L76.8 575.4L64.6 579.5L56.5 585.6L42.2 585.6L43.3 580.5L50.4 571.3L52.4 566.3L46.3 565.2L38.2 569.3L28.0 570.3L28.0 557.0L37.2 551.0L38.2 536.8L36.1 526.6L28.0 514.4L28.0 295.2L37.1 293.1L38.1 301.2L36.1 305.3L40.1 317.4L45.2 327.5L48.2 335.6L50.2 347.7L54.3 361.8L56.3 373.9L63.4 382.0L65.4 394.1L68.4 402.2L73.5 412.3L77.5 424.4L84.6 436.6L92.6 448.7L98.7 456.8L96.7 464.8L90.6 470.9L92.6 477.0L94.7 483.0L97.1 490.0L98.2 502.2L99.2 516.4L111.4 522.5L123.6 518.5L135.8 516.4L138.8 508.3L133.7 502.2L137.8 494.1L141.1 491.1L149.2 482.0L179.5 483.0L187.6 479.0L193.7 458.8L198.7 440.6L195.7 432.5L201.7 422.4L205.8 412.3L200.7 394.1L205.8 373.9L206.8 361.8L203.8 353.7L215.9 349.7L228.0 341.6L238.1 341.6L246.2 335.6L252.2 327.5L264.4 321.4L268.4 311.3L254.3 306.3L256.3 301.2L272.4 290.1L268.4 285.1L246.2 258.8L230.0 230.5L216.9 202.2L217.9 180.0Z" fill="#cde5ee" stroke="#b9b9b9" stroke-width="3"/>
<path d="M580.3 200.2L582.3 194.1L594.4 187.1L614.6 187.1L618.7 200.2L636.9 212.3L651.0 226.5L654.0 238.6L647.0 248.7L649.0 264.8L640.9 268.9L622.7 269.9L616.7 277.0L608.6 274.9L602.5 260.8L598.5 246.7L590.4 236.6L586.4 220.4ZM128.7 595.7L133.7 591.7L141.9 592.7L145.9 596.8L142.9 602.9L138.8 599.8L133.7 601.8L129.7 599.8Z" fill="#cde5ee" stroke="#b9b9b9" stroke-width="3"/>
<path d="M45.3 504.2L58.5 496.1L68.7 492.0L80.9 490.0L84.9 502.2L83.9 510.3L89.0 526.6L82.9 530.7L74.8 529.7L72.7 536.8L66.6 540.8L64.6 530.7L54.4 528.6L52.4 520.5L48.3 512.4ZM45.3 546.9L52.4 542.9L64.6 543.9L72.7 540.8L80.9 542.9L78.8 549.0L72.7 555.1L60.5 556.1L52.4 551.0ZM366.2 339.6L370.2 331.5L380.3 339.6L378.3 347.7L368.2 349.7ZM348.5 366.0L356.0 358.5L362.0 355.8L376.0 353.7L386.4 351.7L390.4 357.8L384.3 363.8L376.3 369.9L366.2 376.0L358.0 382.0L350.0 383.0L348.5 375.0Z" fill="#fff" stroke="#b9b9b9" stroke-width="3"/>
<circle cx="295.8" cy="266.9" r="5" fill="#fff" stroke="#b9b9b9" stroke-width="3"/>
<circle cx="36" cy="469" r="6.5" fill="#fff" stroke="#b9b9b9" stroke-width="3"/>
<path d="M78.5 180.0L88.6 192.1L96.7 202.2L94.7 214.3L82.5 220.4L79.5 226.5L86.6 246.7L88.6 270.9L84.6 279.0L71.4 287.1L70.4 295.2L65.4 305.3L65.4 331.5L63.4 339.6L52.2 330.5M509.6 260.8L515.7 240.6L531.8 222.4L552.0 202.2L572.2 182.0L574.2 180.0M522.7 311.3L517.7 325.5L509.6 335.6L503.5 341.6L502.5 351.7L505.6 361.8L506.6 373.9L511.6 386.1L514.6 394.1L505.6 398.2L501.5 410.3M420.7 392.1L440.9 386.1L451.0 390.1L463.1 396.2L473.2 408.3L481.3 410.3L491.4 408.3L501.5 411.3M501.5 411.3L507.6 416.4L513.6 428.5L511.6 440.6L517.7 448.7L521.7 462.8L525.8 470.9L523.7 481.0L517.7 489.1L511.6 496.2M517.7 489.1L525.8 485.1L543.9 491.1L558.1 495.2L562.1 500.0L553.3 494.1L557.4 502.2L573.7 498.1L583.8 499.2L589.9 504.2L602.1 508.3L601.1 522.5L598.1 530.7L602.1 538.8L597.1 546.9L606.2 555.1L610.3 567.3L618.4 575.4L624.5 583.5L626.5 595.7L634.7 597.8L642.8 603.9L653.0 614.0L646.9 624.2L634.7 630.3L624.5 628.3L620.4 644.5L620.4 660.8L624.5 673.0L632.6 680.1L640.8 673.0L642.8 666.9L655.0 668.9L665.2 662.8L673.3 666.9L683.5 665.9M326.3 483.4L337.4 476.4L351.5 471.3L371.7 470.3L381.8 474.3L389.9 472.3L402.0 473.3L414.1 476.4L428.3 471.3L436.4 474.3L442.4 482.4L456.6 483.4L462.6 490.5L468.7 495.6L438.9 479.0L455.1 483.0L463.1 493.1L471.2 501.2L492.3 498.1L504.5 492.0L512.7 488.0M396.8 591.7L411.0 590.7L421.2 591.7L431.3 585.6L439.5 579.5L445.6 589.6L447.6 579.5L451.7 574.4L459.8 577.4L458.8 573.4L455.7 567.3L457.8 557.1L456.8 546.9L462.9 540.8L470.0 536.8L480.1 528.6L492.3 512.4L504.5 496.1L510.6 490.0M372.4 568.3L382.5 571.3L390.7 579.5L395.8 591.7L399.8 605.9L403.9 620.1L404.9 632.3L408.0 641.5L402.9 648.6L394.7 656.7L384.6 668.9L392.7 673.0L397.8 683.2L398.8 695.4L397.8 705.5L401.9 715.7L405.9 723.8L411.0 729.9L409.0 740.1L406.9 748.2L396.8 754.3L386.6 762.5L378.5 774.7L372.4 786.9L371.4 797.0L376.4 807.2L379.5 815.3M398.8 699.4L413.0 693.3L427.3 687.2L443.5 682.2L459.8 685.2L472.0 687.2L482.2 691.3L494.4 692.3L498.4 697.4L510.6 698.4L512.7 703.5L524.9 697.4L533.0 699.4L537.1 705.5L545.2 697.4L551.3 699.4L557.4 706.6L565.5 703.5L577.7 703.5L583.8 709.6L592.0 713.7L592.0 701.5L594.0 691.3L600.1 683.2L602.1 676.1L612.3 675.0L620.4 671.0L624.5 673.0M137.8 597.8L140.9 612.0L141.9 624.2L135.8 634.4L133.7 642.5L141.9 650.6L145.9 658.8L148.0 673.0L147.0 685.2L149.0 695.4L155.1 705.5L156.1 713.7L153.1 723.8M153.1 723.8L150.0 732.0L143.9 725.9L137.8 723.8L138.8 729.9L129.7 734.0L117.5 738.1L111.4 742.1L103.2 746.2L97.1 750.3L87.0 752.3L76.8 755.4L80.9 764.5L88.0 772.6L87.0 782.8L93.1 793.0L101.2 801.1L109.3 809.2L113.4 815.3M156.1 723.8L166.3 732.0L178.5 736.0L190.7 741.1L194.7 746.2L190.7 752.3L198.8 760.4L202.9 765.5L211.0 760.4L212.0 754.3L223.2 756.4L231.3 756.4L231.3 762.5L239.5 768.6L251.7 770.6L257.8 778.7L261.8 788.9M261.8 788.9L255.7 793.0L247.6 799.1L243.5 807.2L237.4 815.3M261.8 788.9L267.9 795.0L274.0 788.9L281.2 784.8L288.3 793.0L292.3 801.1L300.5 804.2L310.6 797.0L320.8 799.1L328.9 794.0L341.1 795.0L351.3 801.1L358.0 804.2L358.1 807.2L368.3 810.3L376.4 807.2M321.2 525.9L331.3 526.9" fill="none" stroke="#b9b9b9" stroke-width="3"/>
<path d="M296.0 544.0L313.1 543.0L329.3 541.0L332.3 528.9L341.4 531.9L351.5 536.0L357.6 539.0L368.7 537.0L371.7 543.0L374.7 549.1L373.7 559.2L371.7 568.3L341.4 567.3L313.1 566.3L294.9 565.3L301.0 559.2L305.1 556.2L297.0 553.1Z" fill="#d44842" stroke="#b9b9b9" stroke-width="2.5"/>
<path d="M296.0 544.0L313.1 543.0L329.3 541.0L332.3 528.9L341.4 531.9L351.5 536.0L357.6 539.0L368.7 537.0L371.7 543.0L374.7 549.1L373.7 559.2L371.7 568.3L341.4 567.3L313.1 566.3L294.9 565.3L301.0 559.2L305.1 556.2L297.0 553.1Z" fill="#d44842"/>
<rect x="215" y="204" width="423" height="66" fill="#fff" fill-opacity="0.68"/>
</g>
<path d="M77.8 527.5C78.4 521.6 79.2 515.6 80.3 509.8C81.3 503.9 82.5 498.1 83.9 492.4C85.3 486.7 86.9 481.0 88.6 475.5C90.4 469.9 92.3 464.4 94.3 458.9C96.3 453.5 98.4 448.1 100.7 442.8C103.0 437.5 105.4 432.2 107.9 427.1C110.5 421.9 113.1 416.8 115.9 411.8C118.7 406.8 121.7 401.9 124.8 397.1C127.9 392.2 131.1 387.5 134.5 382.9C137.9 378.3 141.5 373.8 145.2 369.5C148.9 365.2 152.8 361.0 156.9 356.9C160.9 352.9 165.1 349.0 169.4 345.3C173.8 341.6 178.3 338.0 182.8 334.7C187.4 331.3 192.2 328.1 197.0 325.1C201.8 322.0 206.7 319.2 211.7 316.5C216.6 313.8 221.7 311.2 226.9 308.8C232.0 306.5 237.2 304.2 242.4 302.1C247.7 300.1 253.0 298.1 258.4 296.3C263.8 294.6 269.2 293.0 274.7 291.5C280.1 290.1 285.7 288.8 291.2 287.7C296.8 286.7 302.4 285.8 308.0 285.1C313.7 284.5 319.3 284.0 325.0 283.8C330.7 283.6 336.3 283.6 342.0 283.9C347.7 284.1 353.3 284.6 359.0 285.3C364.6 286.0 370.2 287.0 375.7 288.2C381.2 289.3 386.7 290.7 392.2 292.2C397.6 293.7 403.0 295.5 408.3 297.3C413.6 299.1 418.9 301.1 424.1 303.2C429.4 305.3 434.5 307.5 439.7 309.8C444.9 312.0 450.0 314.4 455.1 316.9C460.2 319.3 465.3 321.9 470.4 324.5C475.5 327.2 480.6 329.9 485.6 332.8C490.6 335.7 495.7 338.7 500.6 341.9C505.5 345.1 510.5 348.5 515.2 352.0C520.0 355.6 524.7 359.4 529.1 363.3C533.6 367.3 538.0 371.5 542.1 376.0C546.2 380.4 550.1 385.1 553.7 389.9C557.3 394.8 560.7 399.9 563.7 405.1C566.8 410.3 569.6 415.8 572.0 421.3C574.5 426.8 576.7 432.5 578.6 438.3C580.5 444.0 582.1 449.9 583.5 455.8C584.9 461.7 586.0 467.7 586.9 473.6C587.9 479.6 588.6 485.6 589.1 491.6C589.7 497.6 590.1 503.6 590.3 509.5C590.5 515.5 590.6 521.5 590.6 527.5C590.5 533.5 590.4 539.5 590.0 545.4C589.7 551.4 589.2 557.4 588.6 563.3C587.9 569.3 587.1 575.3 586.1 581.2C585.1 587.1 583.9 593.0 582.4 598.9C581.0 604.7 579.3 610.5 577.3 616.3C575.4 622.0 573.2 627.6 570.8 633.1C568.3 638.6 565.6 644.1 562.6 649.3C559.7 654.6 556.4 659.7 553.0 664.6C549.5 669.6 545.8 674.4 541.9 678.9C538.1 683.5 533.9 687.9 529.7 692.1C525.4 696.3 521.0 700.3 516.5 704.2C511.9 708.0 507.2 711.7 502.4 715.1C497.7 718.6 492.8 721.9 487.8 725.0C482.9 728.1 477.8 731.1 472.7 733.9C467.6 736.6 462.4 739.3 457.2 741.7C452.0 744.2 446.7 746.5 441.3 748.6C436.0 750.7 430.6 752.7 425.2 754.5C419.8 756.3 414.4 758.0 408.9 759.5C403.4 761.0 397.9 762.3 392.3 763.5C386.8 764.7 381.2 765.7 375.7 766.6C370.1 767.5 364.5 768.2 358.9 768.8C353.2 769.4 347.6 769.9 342.0 770.2C336.3 770.5 330.7 770.7 325.0 770.8C319.3 770.9 313.6 770.9 307.9 770.7C302.2 770.5 296.5 770.3 290.8 769.8C285.0 769.4 279.3 768.8 273.5 768.1C267.8 767.3 262.0 766.4 256.2 765.3C250.5 764.2 244.7 763.0 239.0 761.5C233.2 760.0 227.5 758.3 221.9 756.3C216.2 754.4 210.6 752.2 205.1 749.8C199.6 747.4 194.2 744.8 188.9 741.9C183.6 739.0 178.4 735.8 173.4 732.4C168.4 729.0 163.5 725.4 158.7 721.6C154.0 717.8 149.4 713.7 145.1 709.5C140.7 705.2 136.5 700.8 132.5 696.2C128.5 691.6 124.6 686.8 121.0 681.9C117.4 677.0 113.9 671.9 110.7 666.7C107.5 661.5 104.4 656.2 101.6 650.8C98.8 645.4 96.2 639.8 93.8 634.2C91.5 628.6 89.3 622.9 87.4 617.1C85.5 611.3 83.8 605.4 82.4 599.5C81.0 593.6 79.8 587.6 78.9 581.6C78.1 575.6 77.4 569.6 77.0 563.5C76.7 557.5 76.5 551.5 76.7 545.5C76.8 539.5 77.2 533.4 77.8 527.5Z" fill="none" stroke="#cb5b3f" stroke-width="5"/>
<path d="M156.0 541.0C156.2 536.9 156.5 532.8 157.1 528.7C157.7 524.7 158.4 520.6 159.5 516.7C160.5 512.7 161.7 508.8 163.2 505.0C164.6 501.2 166.3 497.5 168.2 493.9C170.1 490.3 172.2 486.8 174.4 483.5C176.7 480.1 179.1 476.9 181.7 473.9C184.2 470.8 186.9 467.9 189.7 465.1C192.4 462.3 195.3 459.6 198.1 457.0C201.0 454.5 203.9 452.1 206.8 449.7C209.7 447.3 212.7 445.1 215.5 442.9C218.4 440.6 221.3 438.5 224.1 436.4C227.0 434.2 229.8 432.1 232.6 430.0C235.4 428.0 238.2 425.9 241.0 423.8C243.8 421.8 246.5 419.7 249.3 417.7C252.1 415.7 254.9 413.6 257.8 411.6C260.7 409.6 263.6 407.7 266.5 405.8C269.5 403.9 272.5 402.0 275.6 400.2C278.7 398.4 281.9 396.7 285.1 395.1C288.3 393.5 291.6 392.0 295.0 390.7C298.4 389.3 301.8 388.1 305.3 387.0C308.8 385.9 312.4 385.0 316.0 384.3C319.6 383.5 323.3 382.9 327.0 382.5C330.6 382.1 334.4 381.8 338.1 381.7C341.8 381.7 345.5 381.8 349.2 382.0C352.9 382.3 356.6 382.7 360.3 383.3C364.0 383.9 367.7 384.6 371.3 385.5C374.9 386.3 378.5 387.3 382.1 388.4C385.6 389.5 389.2 390.7 392.7 392.0C396.2 393.3 399.7 394.7 403.1 396.2C406.6 397.7 410.0 399.2 413.4 400.9C416.8 402.5 420.2 404.2 423.6 406.0C427.0 407.7 430.3 409.6 433.7 411.5C437.0 413.5 440.3 415.5 443.6 417.6C446.9 419.7 450.2 421.9 453.4 424.2C456.6 426.6 459.8 429.0 462.9 431.6C465.9 434.2 469.0 436.9 471.8 439.8C474.7 442.7 477.4 445.7 480.0 448.8C482.6 452.0 485.0 455.3 487.3 458.7C489.5 462.1 491.6 465.7 493.4 469.4C495.3 473.0 496.9 476.8 498.3 480.6C499.8 484.5 501.0 488.4 502.1 492.4C503.1 496.3 504.0 500.4 504.7 504.4C505.4 508.4 506.0 512.5 506.4 516.6C506.9 520.6 507.2 524.7 507.5 528.8C507.7 532.8 507.9 536.9 508.0 541.0C508.1 545.1 508.1 549.2 508.1 553.3C508.1 557.4 508.1 561.5 508.0 565.7C507.8 569.8 507.7 574.0 507.4 578.2C507.1 582.4 506.7 586.6 506.1 590.8C505.6 595.0 505.0 599.3 504.1 603.5C503.2 607.6 502.2 611.9 500.9 616.0C499.6 620.1 498.1 624.2 496.4 628.1C494.6 632.1 492.6 635.9 490.3 639.6C488.1 643.3 485.6 646.9 482.8 650.2C480.1 653.6 477.1 656.7 474.0 659.7C470.8 662.6 467.4 665.4 463.9 667.9C460.4 670.4 456.8 672.8 453.0 674.9C449.3 677.0 445.5 678.9 441.6 680.6C437.7 682.4 433.8 683.9 429.9 685.3C425.9 686.8 422.0 688.0 418.1 689.2C414.1 690.4 410.2 691.4 406.3 692.3C402.4 693.3 398.5 694.1 394.7 694.9C390.8 695.7 387.0 696.4 383.2 697.0C379.4 697.7 375.6 698.2 371.8 698.7C368.0 699.1 364.3 699.5 360.5 699.8C356.7 700.1 353.0 700.3 349.3 700.4C345.5 700.5 341.8 700.5 338.1 700.4C334.3 700.3 330.6 700.1 327.0 699.8C323.3 699.6 319.6 699.2 315.9 698.8C312.2 698.4 308.6 697.9 304.9 697.3C301.3 696.8 297.6 696.1 294.0 695.5C290.3 694.8 286.7 694.1 283.0 693.3C279.3 692.6 275.7 691.7 272.0 690.9C268.3 690.0 264.5 689.0 260.8 688.0C257.1 687.0 253.3 685.9 249.6 684.7C245.8 683.4 242.1 682.1 238.3 680.6C234.6 679.1 230.9 677.5 227.3 675.7C223.6 673.9 220.0 671.9 216.5 669.8C213.1 667.6 209.7 665.3 206.4 662.8C203.2 660.2 200.0 657.5 197.1 654.6C194.1 651.8 191.3 648.7 188.7 645.5C186.1 642.3 183.6 638.9 181.3 635.5C179.0 632.0 177.0 628.4 175.0 624.7C173.1 621.1 171.3 617.3 169.7 613.5C168.1 609.7 166.7 605.8 165.3 601.8C164.0 597.9 162.9 593.9 161.8 589.9C160.8 585.9 159.8 581.9 159.1 577.9C158.3 573.8 157.6 569.7 157.1 565.6C156.6 561.6 156.2 557.4 156.1 553.3C155.9 549.2 155.8 545.1 156.0 541.0Z" fill="none" stroke="#f2c15f" stroke-width="4.5"/>
<rect x="444.6" y="497.0" width="106.5" height="37.5" rx="3" fill="#f0c05e"/><text x="450.6" y="527.8" font-family="'Liberation Sans', sans-serif" font-weight="700" font-size="32.4" fill="#fff" textLength="94.5" lengthAdjust="spacingAndGlyphs">300km</text>
<rect x="518.0" y="621.3" width="107.0" height="38.0" rx="3" fill="#cb5a40"/><text x="524.0" y="652.1" font-family="'Liberation Sans', sans-serif" font-weight="700" font-size="32.4" fill="#fff" textLength="95.0" lengthAdjust="spacingAndGlyphs">500km</text>
<rect x="28.5" y="181.7" width="652.8" height="629.8" fill="none" stroke="#b3aea6" stroke-width="2"/>
<text x="172" y="254" font-family="'Liberation Sans', sans-serif" font-size="47" fill="#073e64" textLength="322" lengthAdjust="spacing">KALININGRAD</text></g>
<g id="panel"><rect x="28" y="832" width="654" height="900" fill="url(#panelg)"/>
<g font-family="'Liberation Sans', sans-serif" font-size="40.5" fill="#111">
<text x="38.5" y="875.7" textLength="608.5" lengthAdjust="spacingAndGlyphs">Russia boasts the widest inventory</text>
<text x="38.5" y="926.1" textLength="558.8" lengthAdjust="spacingAndGlyphs">of ballistic and cruise missiles in</text>
<text x="38.5" y="976.5" textLength="531.0" lengthAdjust="spacingAndGlyphs">the world. Moscow’s strategic</text>
<text x="38.5" y="1026.9" textLength="594.5" lengthAdjust="spacingAndGlyphs">rocket forces perform a variety of</text>
<text x="38.5" y="1077.3" textLength="635.5" lengthAdjust="spacingAndGlyphs">missions, from anti-access and area</text>
<text x="38.5" y="1127.7" textLength="577.5" lengthAdjust="spacingAndGlyphs">denial to the delivery of strategic</text>
<text x="38.5" y="1178.1" textLength="520.1" lengthAdjust="spacingAndGlyphs">nuclear warheads. Significant</text>
<text x="38.5" y="1228.5" textLength="615.5" lengthAdjust="spacingAndGlyphs">modernization efforts include new</text>
<text x="38.5" y="1278.9" textLength="548.0" lengthAdjust="spacingAndGlyphs">heavy ICBMs and a long-range</text>
<text x="38.5" y="1329.3" textLength="561.0" lengthAdjust="spacingAndGlyphs">ground-launched cruise missile</text>
<text x="38.5" y="1379.7" textLength="581.1" lengthAdjust="spacingAndGlyphs">that prompted the demise of the</text>
<text x="38.5" y="1430.1" textLength="635.5" lengthAdjust="spacingAndGlyphs">Intermediate-Range Nuclear Forces</text>
<text x="38.5" y="1480.5" textLength="561.0" lengthAdjust="spacingAndGlyphs">Treaty. Russia has also begun to</text>
<text x="38.5" y="1530.9" textLength="594.5" lengthAdjust="spacingAndGlyphs">equip some of its ballistic missiles</text>
<text x="38.5" y="1581.3" textLength="596.5" lengthAdjust="spacingAndGlyphs">with its new Avangard hypersonic</text>
<text x="38.5" y="1631.7" textLength="229.5" lengthAdjust="spacingAndGlyphs">glide vehicle.</text>
</g>
<g id="logo">
<text x="40" y="1716" font-family="'Liberation Serif', serif" font-size="56" fill="#1f3d73" textLength="115" lengthAdjust="spacingAndGlyphs">CSIS</text>
<rect x="175" y="1670" width="1.6" height="49" fill="#1f3d73"/>
<text x="199" y="1708" font-family="'Liberation Sans', sans-serif" font-weight="700" font-size="31" fill="#06344d" stroke="#06344d" stroke-width="0.8" textLength="247" lengthAdjust="spacingAndGlyphs">MISSILE DEFENSE</text>
<text x="456" y="1708" font-family="'Liberation Sans', sans-serif" font-size="31" fill="#06344d" textLength="119" lengthAdjust="spacingAndGlyphs">PROJECT</text>
<path d="M283 1679 Q 375 1652 455 1678 L455 1681 Q 375 1657 283 1679Z" fill="#06344d"/>
</g></g>
<g id="missiles"><path d="M738.0 1517.4L831.0 1516.9L830.0 1525.5L739.5 1525.5Z" fill="#b4b2b1"/><path d="M766.0 1632.5L767.0 1629.0L775.2 1623.8L793.2 1623.8L801.6 1629.0L802.6 1632.5Z" fill="#b0aeae"/><path d="M775.2 1436.6V1671.5Q784.2 1675.0 793.2 1671.5V1436.6Z" fill="url(#gCr)"/><path d="M775.2 1438.6Q784.2 1441.6 793.2 1438.6C793.2 1429.6 789.7 1420.0 784.2 1420.0C778.7 1420.0 775.2 1429.6 775.2 1438.6Z" fill="url(#gTip)"/><path d="M775.2 1456.8H793.2" stroke="#a3a3a3" stroke-width="0.9"/><path d="M775.2 1459.8H793.2" stroke="#a3a3a3" stroke-width="0.9"/><path d="M775.2 1526.5H793.2" stroke="#a3a3a3" stroke-width="0.9"/><path d="M775.2 1599.0H793.2" stroke="#a3a3a3" stroke-width="0.9"/><path d="M775.2 1605.0H793.2" stroke="#a3a3a3" stroke-width="0.9"/><path d="M775.2 1611.0H793.2" stroke="#a3a3a3" stroke-width="0.9"/>
<path d="M920.2 1519.4L1013.0 1518.9L1012.0 1527.9L921.7 1527.9Z" fill="#b4b2b1"/><path d="M948.5 1635.0L949.5 1631.5L957.9 1627.0L975.9 1627.0L983.8 1631.5L984.8 1635.0Z" fill="#b0aeae"/><path d="M957.9 1419.4V1674.0Q966.9 1677.5 975.9 1674.0V1419.4Z" fill="url(#gCr)"/><path d="M957.9 1421.4Q966.9 1424.4 975.9 1421.4C975.9 1412.4 972.4 1401.8 966.9 1401.8C961.4 1401.8 957.9 1412.4 957.9 1421.4Z" fill="url(#gTip)"/><path d="M957.9 1438.6H975.9" stroke="#a3a3a3" stroke-width="0.9"/><path d="M957.9 1441.6H975.9" stroke="#a3a3a3" stroke-width="0.9"/><path d="M957.9 1529.5H975.9" stroke="#a3a3a3" stroke-width="0.9"/><path d="M957.9 1601.0H975.9" stroke="#a3a3a3" stroke-width="0.9"/><path d="M957.9 1606.5H975.9" stroke="#a3a3a3" stroke-width="0.9"/><path d="M957.9 1612.0H975.9" stroke="#a3a3a3" stroke-width="0.9"/>
<path d="M1125.4 1508L1112.2 1544.6V1569.3L1124.4 1575H1148.7L1160.6 1569.3V1544.6L1147.7 1508Z" fill="#b5b3b2"/><path d="M1125.4 1596L1115.4 1610V1616.5L1124.4 1621H1148.7L1157.4 1616.5V1610L1147.7 1596Z" fill="#b5b3b2"/><path d="M1124.4 1670.5Q1136.5 1673.5 1148.7 1670.5V1416C1148.7 1403 1144.5 1394 1142 1389.5L1139 1388.5L1136.5 1379.5L1134 1388.5L1131 1389.5C1128.5 1394 1124.4 1403 1124.4 1416Z" fill="url(#gCr)"/><path d="M1124.4 1424.5A12.1 0.8 0 0 0 1148.7 1424.5" fill="none" stroke="#a2a2a2" stroke-width="0.9" opacity="1"/><path d="M1124.4 1485.7A12.1 0.8 0 0 0 1148.7 1485.7" fill="none" stroke="#a2a2a2" stroke-width="0.9" opacity="1"/><path d="M1124.4 1621.0A12.1 0.8 0 0 0 1148.7 1621.0" fill="none" stroke="#a2a2a2" stroke-width="0.9" opacity="1"/><path d="M1124.4 1663.0A12.1 0.8 0 0 0 1148.7 1663.0" fill="none" stroke="#a2a2a2" stroke-width="0.9" opacity="1"/><path d="M1136.5 1579V1635" stroke="#8e8e8e" stroke-width="0.7"/><path d="M1145 1596V1650" stroke="#b0b0b0" stroke-width="0.7"/>
<path d="M1261 1626C1258 1636 1253 1641 1251.2 1646V1665H1300.8V1646C1299 1641 1294 1636 1291.5 1626Z" fill="url(#gOl)"/><path d="M1263 1664h4v5h-4zM1272.7 1664h6.6v10.5h-6.6zM1285 1664h4v5h-4z" fill="#3f451e"/><path d="M1261 1666V1562C1261.5 1530 1265 1490 1268 1458C1269.5 1445 1273 1434 1276 1429C1279 1434 1282.5 1445 1284 1458C1287 1490 1290.5 1530 1291.5 1562V1666Z" fill="url(#gOl)"/><path d="M1268.0 1458.0A8.0 1.2 0 0 0 1284.0 1458.0" fill="none" stroke="#2c3319" stroke-width="1" opacity="1"/><path d="M1261.0 1561.0A15.2 1.6 0 0 0 1291.5 1561.0" fill="none" stroke="#2c3319" stroke-width="1" opacity="1"/><path d="M1276 1640V1664M1268 1646V1664M1284 1646V1664" stroke="#333a1b" stroke-width="1"/>
<path d="M1397.9 1666.0A32.2 9.3 0 0 0 1462.3 1666.0V1398.5C1462.3 1369.0 1455.6 1352.7 1455.6 1333.0V1053.0C1455.6 1003.2 1439.5 957.5 1432.9 954.1Q1429.9 952.7 1426.9 954.1C1420.3 957.5 1404.2 1003.2 1404.2 1053.0V1333.0C1404.2 1352.7 1397.9 1369.0 1397.9 1398.5Z" fill="url(#gOl)"/><path d="M1404.2 1058.0A25.7 5.5 0 0 0 1455.6 1058.0V1053.0C1455.6 1003.2 1439.5 957.5 1432.9 954.1Q1429.9 952.7 1426.9 954.1C1420.3 957.5 1404.2 1003.2 1404.2 1053.0Z" fill="url(#gNose)"/><path d="M1404.2 1087.0A25.7 7.5 0 0 0 1455.6 1087.0" fill="none" stroke="#2b3218" stroke-width="1.1" opacity="1"/><path d="M1404.2 1173.0A25.7 7.5 0 0 0 1455.6 1173.0" fill="none" stroke="#2b3218" stroke-width="1.1" opacity="1"/><path d="M1404.2 1226.0A25.7 7.5 0 0 0 1455.6 1226.0" fill="none" stroke="#2b3218" stroke-width="1.1" opacity="1"/><path d="M1397.9 1398.5A32.2 9.3 0 0 0 1462.3 1398.5" fill="none" stroke="#2b3218" stroke-width="1.1" opacity="1"/><path d="M1397.9 1633.0A32.2 9.3 0 0 0 1462.3 1633.0" fill="none" stroke="#2b3218" stroke-width="1.1" opacity="1"/>
<path d="M1561 1612V1666Q1591.6 1683 1622.4 1666V1612Z" fill="url(#gOl)"/><path d="M1558 1629h6v28h-6zM1619 1629h6v28h-6z" fill="#9a9a9a"/><path d="M1581 1637h21l2 20-5 4v6h-15v-6l-5-4z" fill="#858585"/><path d="M1576 1631v34M1608 1631v34M1565 1634l11 -3M1619 1634l-11 -3" stroke="#c9c9c9" stroke-width="1.4" fill="none"/><path d="M1561 1384H1622.6V1612Q1591.6 1622 1561 1612Z" fill="url(#gYel)"/><path d="M1561 1384H1622.6V1612Q1591.6 1622 1561 1612Z" fill="url(#ygrid)"/><path d="M1561 1428Q1591.6 1437 1622.6 1428" fill="none" stroke="#77724a" stroke-width="0.7" /><path d="M1561 1446Q1591.6 1455 1622.6 1446" fill="none" stroke="#77724a" stroke-width="0.7" stroke-dasharray="3 2"/><path d="M1561 1470Q1591.6 1479 1622.6 1470" fill="none" stroke="#77724a" stroke-width="0.7" /><path d="M1561 1508Q1591.6 1517 1622.6 1508" fill="none" stroke="#77724a" stroke-width="0.7" /><path d="M1561 1545Q1591.6 1554 1622.6 1545" fill="none" stroke="#77724a" stroke-width="0.7" stroke-dasharray="3 2"/><path d="M1561 1578Q1591.6 1587 1622.6 1578" fill="none" stroke="#77724a" stroke-width="0.7" stroke-dasharray="3 2"/><path d="M1561 1598Q1591.6 1607 1622.6 1598" fill="none" stroke="#77724a" stroke-width="0.7" stroke-dasharray="3 2"/><path d="M1558.5 1609.0A33.1 5.0 0 0 0 1624.8 1609.0L1624.8 1621.0A33.1 5.0 0 0 1 1558.5 1621.0Z" fill="#343c1b"/><path d="M1566.6 1316H1617C1617.5 1345 1621.5 1365 1622.6 1380V1390H1560.8V1380C1562 1365 1566 1345 1566.6 1316Z" fill="url(#gOl)"/><path d="M1558.0 1377.0A33.5 5.0 0 0 0 1625.0 1377.0L1625.0 1389.5A33.5 5.0 0 0 1 1558.0 1389.5Z" fill="#343c1b"/><path d="M1566.6 1200.0H1617.0V1320.0A25.2 6.5 0 0 1 1566.6 1320.0Z" fill="url(#gBlk)"/><path d="M1569.6 1150C1568 1175 1567 1190 1566.6 1208A25.2 6.5 0 0 0 1617 1208C1616.6 1190 1615.5 1175 1613.8 1150Z" fill="url(#gOl)"/><path d="M1569.6 1090.0H1613.8V1156.0A22.1 5.5 0 0 1 1569.6 1156.0Z" fill="url(#gBlk)"/><path d="M1569.6 1090.0H1613.8V1156.0A22.1 5.5 0 0 1 1569.6 1156.0Z" fill="url(#pgrid)"/><path d="M1576 1046C1576 1056 1571 1080 1569.6 1096A22.1 5.5 0 0 0 1613.8 1096C1612.5 1080 1607 1056 1607 1046Z" fill="url(#gOl)"/><path d="M1576.5 1049C1570 1047 1565.4 1052 1565.4 1058C1565.4 1066 1570 1070 1573 1073L1577 1060ZM1606.8 1049C1613 1047 1617.8 1052 1617.8 1058C1617.8 1066 1613 1070 1610 1073L1606 1060Z" fill="#444a1f"/><path d="M1567.5 1053.5L1571 1047L1575.5 1053ZM1608 1053L1612.5 1047L1616 1053.5ZM1587.5 1059L1591.5 1053.5L1595.5 1059Z" fill="#c8202a" stroke="#c8202a" stroke-width="0.8" stroke-linejoin="round"/><path d="M1587 1061Q1591.5 1059 1596 1061Q1595 1070 1591.5 1074Q1588 1070 1587 1061Z" fill="#363d1b"/><path d="M1576.1 1048V1023.6C1576.5 990 1583 950 1589.6 939Q1591.6 936.5 1593.6 939C1600 950 1606.5 990 1607 1023.6V1048Q1591.6 1053 1576.1 1048Z" fill="url(#gOl)"/><path d="M1576.1 1023.6A15.5 1.2 0 0 0 1607.0 1023.6" fill="none" stroke="#2b3218" stroke-width="1" opacity="1"/>
<path d="M1724.4 1666.0A34.1 9.9 0 0 0 1792.6 1666.0V1378.0C1792.6 1346.3 1786.3 1328.7 1786.3 1307.6V1010.0C1786.3 956.9 1768.5 908.0 1761.5 904.4Q1758.5 903.0 1755.5 904.4C1748.5 908.0 1730.7 956.9 1730.7 1010.0V1307.6C1730.7 1328.7 1724.4 1346.3 1724.4 1378.0Z" fill="url(#gOl)"/><path d="M1730.7 1015.0A27.8 5.5 0 0 0 1786.3 1015.0V1010.0C1786.3 956.9 1768.5 908.0 1761.5 904.4Q1758.5 903.0 1755.5 904.4C1748.5 908.0 1730.7 956.9 1730.7 1010.0Z" fill="url(#gNose)"/><path d="M1730.7 1044.0A27.8 8.1 0 0 0 1786.3 1044.0" fill="none" stroke="#2b3218" stroke-width="1.1" opacity="1"/><path d="M1730.7 1133.6A27.8 8.1 0 0 0 1786.3 1133.6" fill="none" stroke="#2b3218" stroke-width="1.1" opacity="1"/><path d="M1730.7 1181.6A27.8 8.1 0 0 0 1786.3 1181.6" fill="none" stroke="#2b3218" stroke-width="1.1" opacity="1"/><path d="M1724.4 1378.0A34.1 9.9 0 0 0 1792.6 1378.0" fill="none" stroke="#2b3218" stroke-width="1.1" opacity="1"/><path d="M1724.4 1633.0A34.1 9.9 0 0 0 1792.6 1633.0" fill="none" stroke="#2b3218" stroke-width="1.1" opacity="1"/>
<path d="M1894.0 1640.0H1910.0L1914.0 1667.0Q1902.0 1671.5 1890.0 1667.0Z" fill="url(#gNoz)"/><path d="M1953.0 1640.0H1969.0L1973.0 1667.0Q1961.0 1671.5 1949.0 1667.0Z" fill="url(#gNoz)"/><path d="M1923.0 1648.0H1941.0L1944.5 1677.0Q1932.0 1681.5 1919.5 1677.0Z" fill="url(#gNoz)"/><path d="M1890.2 1641A41.5 11 0 0 0 1973.2 1641V985C1973.2 950 1972.7 930 1971 908C1969.5 885 1962 862 1955 852Q1950 845.6 1943 845.6H1921Q1914 845.6 1909 852C1901 862 1893.5 885 1892.2 908C1891 930 1890.7 950 1890.2 985Z" fill="url(#gSN)"/><path d="M1892.3 910.0A39.4 11.4 0 0 0 1971.0 910.0" fill="none" stroke="#8d8d8d" stroke-width="1" opacity="1"/><path d="M1891.3 942.0A40.4 11.7 0 0 0 1972.0 942.0" fill="none" stroke="#8d8d8d" stroke-width="1" opacity="1"/><path d="M1890.5 981.0A41.2 12.0 0 0 0 1973.0 981.0" fill="none" stroke="#8d8d8d" stroke-width="1" opacity="1"/><path d="M1890.2 1065.0A41.5 12.0 0 0 0 1973.2 1065.0" fill="none" stroke="#8d8d8d" stroke-width="1" opacity="1"/><path d="M1890.2 1166.0A41.5 12.0 0 0 0 1973.2 1166.0" fill="none" stroke="#8d8d8d" stroke-width="1" opacity="1"/><path d="M1890.2 1372.0A41.5 12.0 0 0 0 1973.2 1372.0" fill="none" stroke="#8d8d8d" stroke-width="1" opacity="1"/><path d="M1890.2 1452.7A41.5 12.0 0 0 0 1973.2 1452.7" fill="none" stroke="#8d8d8d" stroke-width="1" opacity="1"/><path d="M1949.7 975.6V1564" stroke="#8a8a8a" stroke-width="0.8"/>
<path d="M2083.0 1634.0H2107.0L2111.5 1662.0Q2095.0 1666.5 2078.5 1662.0Z" fill="url(#gNoz)"/><path d="M2151.0 1634.0H2175.0L2179.5 1662.0Q2163.0 1666.5 2146.5 1662.0Z" fill="url(#gNoz)"/><path d="M2112 1640H2146L2143 1662H2115Z" fill="url(#gNozD)"/><path d="M2115.0 1660.0H2141.0L2145.0 1677.0Q2128.0 1681.5 2111.0 1677.0Z" fill="url(#gNoz)"/><path d="M2077.4 1300V1633A50.75 12 0 0 0 2178.9 1633V1300Z" fill="url(#gDg)"/><path d="M2077.4 965.0A50.8 14.7 0 0 0 2178.9 965.0L2178.9 1304.7A50.8 14.7 0 0 1 2077.4 1304.7Z" fill="url(#gWht)"/><path d="M2077.4 913.0A50.8 14.7 0 0 0 2178.9 913.0L2178.9 969.7A50.8 14.7 0 0 1 2077.4 969.7Z" fill="url(#gOl)"/><path d="M2077.4 838.0A50.8 14.7 0 0 0 2178.9 838.0L2178.9 915.0A50.8 14.7 0 0 1 2077.4 915.0Z" fill="url(#gWht)"/><path d="M2077.4 840.7A50.75 14.5 0 0 0 2178.9 840.7V628C2178.9 585 2158 532 2137 515Q2128.2 508.5 2119.3 515C2098 532 2077.4 585 2077.4 628Z" fill="url(#gOl)"/><path d="M2077.4 630.0A50.8 14.7 0 0 0 2178.9 630.0" fill="none" stroke="#2b3218" stroke-width="1.2" opacity="1"/><path d="M2077.4 708.0A50.8 14.7 0 0 0 2178.9 708.0" fill="none" stroke="#2b3218" stroke-width="1.2" opacity="1"/><path d="M2098.6 694V1599" stroke="#9a9a9a" stroke-width="0.8"/>
<path d="M2292.0 1636.0H2314.0L2320.5 1669.0Q2303.0 1673.5 2285.5 1669.0Z" fill="url(#gNoz)"/><path d="M2359.0 1636.0H2381.0L2387.5 1669.0Q2370.0 1673.5 2352.5 1669.0Z" fill="url(#gNoz)"/><path d="M2324.5 1646.0H2348.5L2354.5 1675.0Q2336.5 1679.5 2318.5 1675.0Z" fill="url(#gNoz)"/><path d="M2286.0 1578V1636.4A50.75 12.5 0 0 0 2387.5 1636.4V1578Z" fill="url(#gSN)"/><path d="M2286.0 630.0A50.8 14.7 0 0 0 2387.5 630.0L2387.5 1580.0A50.8 14.7 0 0 1 2286.0 1580.0Z" fill="url(#gBlk)"/><path d="M2280.7 583H2393V592.5H2280.7Z" fill="#b9b9b9"/><path d="M2286.0 635.7A50.75 14.5 0 0 0 2387.5 635.7V565C2387.5 530 2374 492 2357 476Q2350 470.6 2342 470.6H2331Q2323 470.6 2316 476C2299 492 2286.0 530 2286.0 565Z" fill="url(#gSN)"/><rect x="2327.7" y="598.5" width="17.7" height="8.2" fill="#b0b0b0"/><path d="M2337 474V502" stroke="#a9a9a9" stroke-width="10" stroke-linecap="round"/><circle cx="2336.6" cy="669.2" r="11.7" fill="#555"/><path d="M2286.0 685.0A50.8 14.7 0 0 0 2387.5 685.0" fill="none" stroke="#bdbdbd" stroke-width="1.3" opacity="1"/><path d="M2286.0 899.0A50.8 14.7 0 0 0 2387.5 899.0" fill="none" stroke="#bdbdbd" stroke-width="1.3" opacity="1"/><path d="M2286.0 1237.5A50.8 14.7 0 0 0 2387.5 1237.5" fill="none" stroke="#bdbdbd" stroke-width="1.3" opacity="1"/>
<g font-family="'Liberation Sans', sans-serif" font-weight="700" font-size="40.7" fill="#000"><text transform="translate(866.7 1673.0) rotate(-90)" textLength="383.4" lengthAdjust="spacingAndGlyphs">SSC-7/9M728 | 500 KM</text><text transform="translate(1051.0 1673.0) rotate(-90)" textLength="416.5" lengthAdjust="spacingAndGlyphs">SSC-8/9M729 | 2,500 KM</text><text transform="translate(1203.8 1673.0) rotate(-90)" textLength="537.6" lengthAdjust="spacingAndGlyphs">SS-N-26/P-800 ONIKS | 300 KM</text><text transform="translate(1341.6 1673.0) rotate(-90)" textLength="615.8" lengthAdjust="spacingAndGlyphs">SS-26/9M723 ISKANDER-M | 500 KM</text><text transform="translate(1503.4 1673.0) rotate(-90)" textLength="767.0" lengthAdjust="spacingAndGlyphs">SS-27 MOD 1/RT-2PM2 TOPOL-M | 11,000 KM</text><text transform="translate(1668.0 1673.0) rotate(-90)" textLength="579.6" lengthAdjust="spacingAndGlyphs">SS-25/RT-2PM TOPOL | 11,000 KM</text><text transform="translate(1833.0 1673.0) rotate(-90)" textLength="637.6" lengthAdjust="spacingAndGlyphs">SS-27 MOD 2/RS-24 YARS | 11,000 KM</text><text transform="translate(2014.0 1673.0) rotate(-90)" textLength="473.6" lengthAdjust="spacingAndGlyphs">SS-19/UR-100N | 10,000 KM</text><text transform="translate(2228.3 1673.0) rotate(-90)" textLength="633.4" lengthAdjust="spacingAndGlyphs">SS-18/R-36M2 VOEVODA | 16,000 KM</text><text transform="translate(2438.0 1673.0) rotate(-90)" textLength="632.0" lengthAdjust="spacingAndGlyphs">SS-X-30/RS-28 SARMAT | 10,000+ KM</text></g>
<path d="M2491.6 473.7V1671.7M2475 473.7H2509M2474 1671.7H2508" stroke="#111" stroke-width="2.2" fill="none"/><text x="2300" y="445" font-family="'Liberation Sans', sans-serif" font-size="41" fill="#111" textLength="208" lengthAdjust="spacingAndGlyphs">35.3m/116ft</text><text x="2373" y="1714" font-family="'Liberation Sans', sans-serif" font-size="23.5" fill="#222" textLength="141" lengthAdjust="spacingAndGlyphs">January 2021</text></g>
<g id="title"><g id="flag">
<rect x="289" y="35" width="163" height="104" fill="#fff"/>
<rect x="289" y="69.5" width="163" height="35" fill="#22439c"/>
<rect x="289" y="104.5" width="163" height="34.5" fill="#d52b27"/>
</g>
<text y="130" font-family="'Liberation Sans', sans-serif" font-weight="700" font-size="122" fill="#073e64" stroke="#fff" stroke-width="3" paint-order="stroke" stroke-linejoin="round"><tspan x="489.5" textLength="489" lengthAdjust="spacingAndGlyphs">RUSSIA’S</tspan> <tspan x="1007.5" textLength="736" lengthAdjust="spacingAndGlyphs">LAND-BASED</tspan> <tspan x="1769.5" textLength="501" lengthAdjust="spacingAndGlyphs">MISSILES</tspan></text></g>
</svg></body></html>
